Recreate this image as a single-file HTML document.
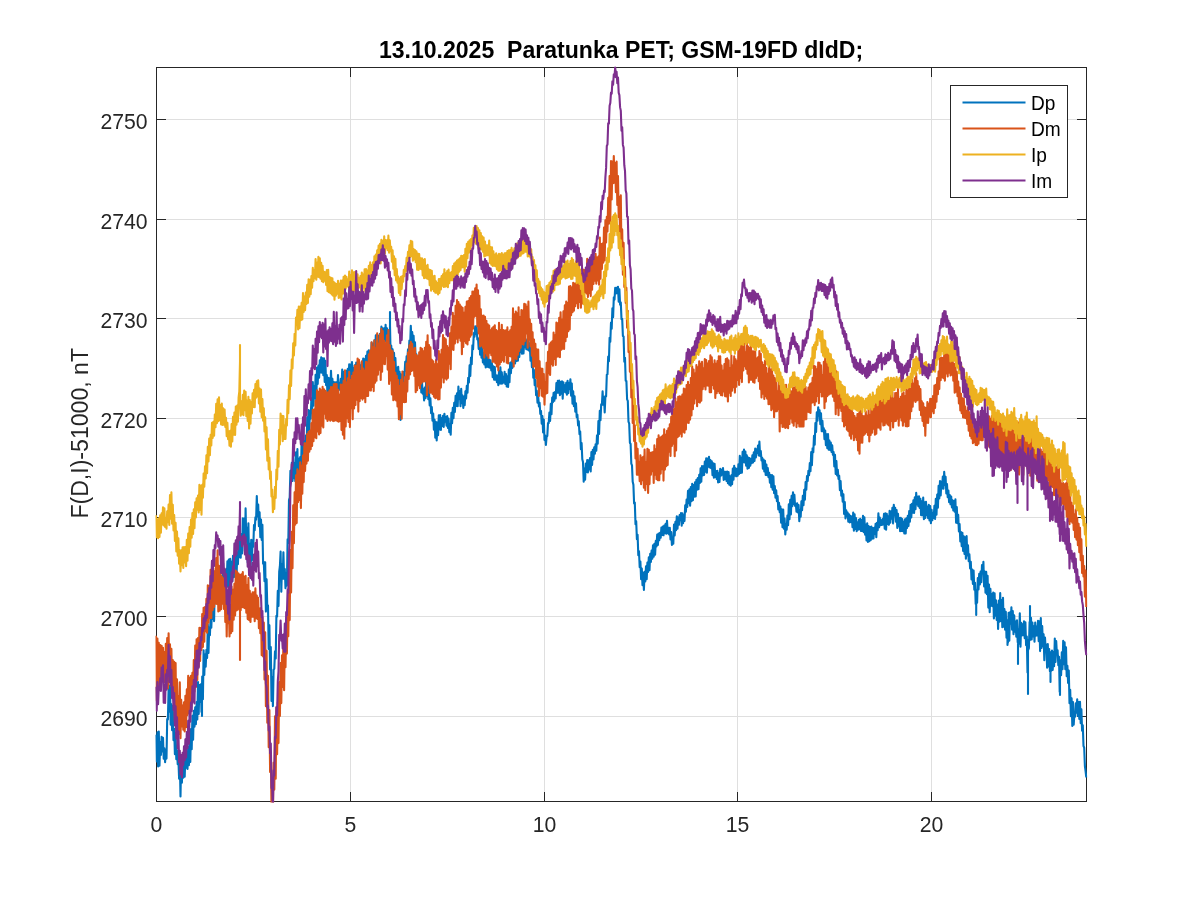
<!DOCTYPE html>
<html lang="en"><head><meta charset="utf-8"><title>13.10.2025 Paratunka PET; GSM-19FD dIdD;</title>
<style>html,body{margin:0;padding:0;background:#fff;}body{width:1200px;height:900px;overflow:hidden;}svg{display:block;}text{font-family:"Liberation Sans",Arial,Helvetica,sans-serif;fill:#262626;}.tk{font-size:21.2px;}.ttl{font-size:23.07px;font-weight:bold;fill:#000;}.yl{font-size:23.1px;}.lg{font-size:19.1px;fill:#000;}</style></head><body>
<svg width="1200" height="900" viewBox="0 0 1200 900">
<rect x="0" y="0" width="1200" height="900" fill="#fff"/>
<path d="M350.50 67.5V801.5M544.50 67.5V801.5M737.50 67.5V801.5M931.50 67.5V801.5M156.5 716.50H1086.5M156.5 616.50H1086.5M156.5 517.50H1086.5M156.5 418.50H1086.5M156.5 318.50H1086.5M156.5 219.50H1086.5M156.5 119.50H1086.5" stroke="#262626" stroke-opacity="0.15" stroke-width="1" fill="none" shape-rendering="crispEdges"/>
<path d="M350.50 801.5v-9.3M350.50 67.5v9.3M544.50 801.5v-9.3M544.50 67.5v9.3M737.50 801.5v-9.3M737.50 67.5v9.3M931.50 801.5v-9.3M931.50 67.5v9.3M156.5 716.50h9.3M1086.5 716.50h-9.3M156.5 616.50h9.3M1086.5 616.50h-9.3M156.5 517.50h9.3M1086.5 517.50h-9.3M156.5 418.50h9.3M1086.5 418.50h-9.3M156.5 318.50h9.3M1086.5 318.50h-9.3M156.5 219.50h9.3M1086.5 219.50h-9.3M156.5 119.50h9.3M1086.5 119.50h-9.3" stroke="#262626" stroke-width="1" fill="none" shape-rendering="crispEdges"/>
<rect x="156.5" y="67.5" width="930.0" height="734.0" fill="none" stroke="#262626" stroke-width="1" shape-rendering="crispEdges"/>
<defs><clipPath id="c"><rect x="155.5" y="66.5" width="932.0" height="736.0"/></clipPath></defs>
<g clip-path="url(#c)" fill="none" stroke-width="2.1" stroke-linejoin="round" stroke-linecap="butt">
<path d="M156.0,734.6 156.7,761.4 157.4,732.4 158.1,766.5 158.8,731.6 159.5,765.8 160.2,742.3 160.9,755.0 161.6,736.8 162.3,751.5 163.0,737.9 163.7,758.6 164.4,748.2 165.1,762.1 165.8,749.8 166.5,758.6 167.2,719.0 167.9,719.6 168.6,689.0 169.3,711.6 170.0,685.5 170.7,724.7 171.4,704.3 172.1,730.2 172.8,706.1 173.5,740.2 174.2,728.8 174.9,754.3 175.6,732.9 176.3,759.3 177.0,750.4 177.7,764.2 178.4,759.5 179.1,778.6 179.8,760.2 180.5,796.5 181.2,756.5 181.9,782.6 182.6,762.0 183.3,777.7 184.0,757.7 184.7,776.6 185.4,755.3 186.1,767.6 186.8,752.9 187.5,769.0 188.2,747.1 188.9,765.3 189.6,738.2 190.3,762.0 191.0,729.0 191.7,749.3 192.4,715.7 193.1,739.7 193.8,710.7 194.5,726.8 195.2,707.4 195.9,724.2 196.6,702.1 197.3,719.5 198.0,682.1 198.7,713.9 199.4,685.1 200.1,702.0 200.8,684.3 201.5,712.0 202.0,690.0 202.0,716.0 202.0,690.0 202.2,676.5 202.9,699.2 203.6,650.4 204.3,675.0 205.0,654.5 205.7,666.8 206.4,649.9 207.1,657.9 207.8,624.6 208.5,652.9 209.2,627.6 209.9,635.1 210.6,617.4 211.3,627.7 212.0,609.3 212.7,618.9 213.4,595.8 214.1,621.1 214.8,583.2 215.5,594.5 216.2,579.7 216.9,600.2 217.6,575.0 218.3,595.4 219.0,569.9 219.7,600.3 220.4,575.4 221.1,589.4 221.8,576.6 222.5,586.1 223.2,563.3 223.9,590.9 224.6,571.6 225.3,588.0 226.0,569.6 226.7,582.1 227.4,561.4 228.1,586.9 228.8,559.6 229.5,589.7 230.2,558.7 230.9,585.8 231.6,561.9 232.3,581.1 233.0,555.8 233.7,577.3 234.4,560.0 235.1,576.6 235.8,549.4 236.5,580.8 237.2,552.6 237.9,564.2 238.6,545.6 239.3,557.1 240.0,540.2 240.7,557.7 241.4,534.4 242.1,553.5 242.8,518.3 243.5,541.2 244.2,518.6 244.9,551.3 245.6,508.4 246.3,541.5 247.0,527.9 247.7,562.6 248.4,523.2 249.1,561.0 249.8,543.7 250.5,577.1 251.2,539.9 251.9,560.5 252.6,540.1 253.3,546.6 254.0,525.1 254.7,530.1 255.4,517.4 256.1,519.7 256.8,496.1 257.5,516.4 258.2,504.6 258.9,526.2 259.6,512.4 260.3,537.1 261.0,519.5 261.7,540.0 262.4,524.7 263.1,563.7 263.8,561.9 264.5,581.3 265.2,562.3 265.9,611.6 266.6,579.2 267.3,607.8 268.0,605.4 268.7,648.9 269.4,625.2 270.1,669.4 270.8,647.0 271.5,701.0 272.2,677.0 272.9,706.1 273.6,669.6 274.3,668.8 275.0,651.3 275.7,658.4 276.4,615.9 277.1,616.5 277.8,590.9 278.5,606.0 279.2,571.7 279.9,566.2 280.6,551.6 281.3,591.7 282.0,564.3 282.7,578.7 283.4,552.3 284.1,578.8 284.8,569.0 285.5,588.1 286.2,573.3 286.9,585.6 287.6,539.3 288.3,543.1 289.0,500.0 289.7,497.5 290.4,470.9 291.1,481.0 291.8,462.9 292.5,481.0 293.2,455.3 293.9,478.2 294.6,463.2 295.3,481.2 296.0,452.4 296.7,480.4 297.4,449.0 298.1,488.6 298.8,458.7 299.5,471.7 300.2,457.1 300.9,477.6 301.6,442.6 302.3,464.4 303.0,431.1 303.7,468.3 304.4,441.3 305.1,454.1 305.8,435.5 306.5,459.0 307.2,417.3 307.9,443.8 308.6,410.0 309.3,429.5 310.0,410.7 310.7,418.7 311.4,398.3 312.1,413.3 312.8,382.1 313.5,405.8 314.2,386.0 314.9,398.3 315.6,374.9 316.3,401.9 317.0,367.6 317.7,384.0 318.4,365.6 319.1,377.8 319.8,360.2 320.5,372.4 321.2,357.3 321.9,372.8 322.6,358.3 323.3,375.1 324.0,358.2 324.7,381.9 325.4,360.7 326.1,385.1 326.8,375.1 327.5,397.0 328.2,377.9 328.9,398.2 329.6,378.3 330.3,390.6 331.0,370.9 331.7,389.4 332.4,378.9 333.1,390.1 333.8,382.1 334.5,395.9 335.2,382.3 335.9,399.1 336.6,382.4 337.3,391.0 338.0,375.0 338.7,389.4 339.4,383.1 340.1,389.9 340.8,378.7 341.5,388.7 342.2,369.6 342.9,384.6 343.6,371.9 344.3,379.7 345.0,374.2 345.7,379.3 346.4,370.8 347.1,384.6 347.8,368.9 348.5,380.3 349.2,364.3 349.9,380.3 350.6,364.5 351.3,374.1 352.0,362.0 352.7,378.8 353.4,368.2 354.1,374.4 354.8,365.2 355.5,378.9 356.2,362.5 356.9,375.4 357.6,364.3 358.3,375.7 359.0,361.9 359.7,372.7 360.4,365.6 361.1,372.2 361.8,362.2 362.5,373.5 363.2,358.5 363.9,373.0 364.6,359.4 365.3,365.5 366.0,355.8 366.7,365.4 367.4,351.5 368.1,367.0 368.8,350.3 369.5,358.3 370.2,351.9 370.9,360.7 371.6,342.6 372.3,355.7 373.0,344.2 373.7,349.6 374.4,340.4 375.1,352.4 375.8,335.2 376.5,346.0 377.2,334.9 377.9,343.2 378.6,335.7 379.3,342.3 380.0,333.7 380.7,340.7 381.4,326.6 382.1,344.2 382.8,328.3 383.5,338.9 384.2,328.3 384.9,341.2 385.6,324.7 386.3,340.6 387.0,328.2 387.7,341.9 388.4,331.0 389.1,347.1 389.8,337.0 390.0,325.0 390.0,312.0 390.0,325.0 390.5,350.1 391.2,345.5 391.9,354.4 392.6,349.2 393.3,364.2 394.0,352.7 394.7,367.8 395.4,358.1 396.1,374.8 396.8,367.8 397.5,382.3 398.2,366.9 398.9,384.2 399.6,371.7 400.3,386.2 400.5,400.0 400.5,420.0 400.5,400.0 401.0,374.2 401.7,389.5 402.4,381.6 403.1,387.8 403.8,371.9 404.5,375.6 405.2,361.9 405.9,371.0 406.6,356.2 407.3,360.7 408.0,349.2 408.7,353.4 409.4,340.5 410.1,346.3 410.8,325.9 411.5,342.8 412.2,332.1 412.9,342.9 413.6,335.7 414.3,351.1 415.0,342.2 415.7,360.5 416.4,354.4 417.1,365.0 417.8,361.4 418.5,375.8 419.2,366.0 419.9,386.7 420.6,372.1 421.3,392.5 422.0,382.2 422.7,393.6 423.4,389.4 424.1,400.4 424.8,387.5 425.5,398.1 426.2,379.9 426.9,396.3 427.6,379.6 428.3,399.3 429.0,391.7 429.7,405.5 430.4,398.3 431.1,413.3 431.8,407.0 432.5,420.6 433.2,413.5 433.9,429.6 434.6,419.8 435.3,437.6 436.0,422.1 436.7,440.5 437.4,422.6 438.1,435.3 438.8,415.4 439.5,429.4 440.2,415.1 440.9,429.9 441.6,418.4 442.3,426.0 443.0,415.8 443.7,427.0 444.4,413.7 445.1,421.7 445.8,417.0 446.5,425.6 447.2,416.0 447.9,428.0 448.6,418.6 449.3,432.2 450.0,424.0 450.7,434.6 451.4,412.9 452.1,423.1 452.8,407.9 453.5,418.1 454.2,402.7 454.9,412.0 455.6,395.8 456.3,405.9 457.0,393.3 457.7,406.3 458.4,386.5 459.1,398.9 459.8,391.3 460.5,406.1 461.2,388.8 461.9,403.1 462.6,395.5 463.3,408.0 464.0,396.8 464.7,405.3 465.4,391.3 466.1,398.5 466.8,385.9 467.5,392.6 468.2,377.9 468.9,382.4 469.6,365.4 470.3,375.9 471.0,357.6 471.7,364.1 472.4,345.4 473.1,349.2 473.8,333.1 474.5,336.6 475.2,326.3 475.9,334.3 476.6,326.3 477.3,339.4 478.0,338.2 478.7,349.0 479.4,340.6 480.1,354.6 480.8,343.9 481.5,357.7 482.2,348.7 482.9,362.5 483.6,352.9 484.3,364.5 485.0,354.9 485.7,367.5 486.4,353.4 487.1,366.7 487.8,356.4 488.5,367.3 489.2,359.5 489.9,367.7 490.6,360.4 491.3,370.5 492.0,363.8 492.7,377.1 493.4,366.3 494.1,379.6 494.8,367.1 495.5,379.8 496.2,375.4 496.9,382.2 497.6,375.5 498.3,385.1 499.0,371.3 499.7,383.5 500.4,367.3 501.1,383.7 501.8,372.3 502.5,383.4 503.2,376.9 503.9,382.5 504.6,371.9 505.3,384.0 506.0,374.0 506.7,386.4 507.4,376.6 508.1,387.0 508.8,369.5 509.5,382.1 510.2,362.8 510.9,373.3 511.6,361.5 512.3,367.9 513.0,357.0 513.7,363.1 514.4,357.3 515.1,363.4 515.8,350.9 516.5,360.9 517.2,349.0 517.9,360.8 518.6,347.8 519.3,357.0 520.0,345.3 520.7,352.2 521.4,344.9 522.1,353.8 522.8,336.4 523.5,353.4 524.2,340.6 524.9,347.3 525.6,339.0 526.3,349.2 527.0,340.5 527.7,349.6 528.4,339.2 529.1,350.6 529.8,343.5 530.5,360.7 531.2,352.2 531.9,367.1 532.6,358.5 533.3,377.8 534.0,370.1 534.7,385.1 535.4,380.0 536.1,395.2 536.8,390.7 537.5,402.8 538.2,396.0 538.9,406.4 539.6,402.8 540.3,414.0 541.0,411.1 541.7,423.6 542.4,416.0 543.1,432.5 543.8,419.5 544.5,439.9 545.2,435.6 545.9,445.0 546.6,436.9 547.3,435.9 548.0,423.1 548.7,423.1 549.4,412.5 550.1,421.0 550.8,403.9 551.5,414.2 552.2,397.5 552.9,402.1 553.6,392.9 554.3,400.8 555.0,392.0 555.7,398.4 556.4,383.0 557.1,392.7 557.8,380.7 558.5,392.7 559.2,380.5 559.9,395.2 560.6,382.0 561.3,393.7 562.0,381.4 562.7,398.8 563.4,382.3 564.1,391.7 564.8,385.3 565.5,392.5 566.2,382.8 566.9,394.8 567.6,380.7 568.3,393.2 569.0,383.4 569.7,388.9 570.4,379.2 571.1,395.8 571.8,383.5 572.5,403.6 573.2,391.3 573.9,406.1 574.6,396.2 575.3,411.7 576.0,403.4 576.7,417.1 577.4,414.8 578.1,425.5 578.8,421.4 579.5,434.2 580.2,431.6 580.9,449.1 581.6,443.1 582.3,459.2 583.0,462.1 583.7,481.6 584.4,468.7 585.1,479.7 585.8,463.6 586.5,471.9 587.2,460.1 587.9,472.5 588.6,460.2 589.3,469.4 590.0,458.0 590.7,471.5 591.4,452.1 592.1,465.0 592.8,449.8 593.5,459.5 594.2,447.3 594.9,453.7 595.6,444.2 596.3,450.7 597.0,435.4 597.7,443.6 598.4,421.1 599.1,433.9 599.8,410.7 600.5,420.2 601.2,404.2 601.9,404.7 602.6,391.2 603.3,404.8 604.0,397.3 604.7,412.4 605.4,396.1 606.1,396.4 606.8,374.9 607.5,374.3 608.2,356.6 608.9,361.2 609.6,337.9 610.3,341.6 611.0,322.5 611.7,328.6 612.4,308.4 613.1,317.2 613.8,297.2 614.5,299.8 615.2,287.9 615.9,293.4 616.6,287.8 617.3,293.3 618.0,286.7 618.7,301.6 619.4,289.4 620.1,304.7 620.8,302.6 621.5,319.1 622.2,318.9 622.9,336.0 623.6,336.6 624.3,361.7 625.0,357.8 625.7,380.6 626.4,381.1 627.1,399.3 627.8,400.9 628.5,421.7 629.2,423.7 629.9,442.8 630.6,443.8 631.3,463.6 632.0,465.4 632.7,481.7 633.4,484.7 634.1,503.4 634.8,502.5 635.5,524.1 636.2,521.3 636.9,539.2 637.6,534.8 638.3,555.2 639.0,551.4 639.7,567.3 640.4,561.5 641.1,579.3 641.8,568.5 642.5,585.3 643.2,572.8 643.9,589.9 644.6,571.9 645.3,581.4 646.0,566.3 646.7,579.2 647.4,562.5 648.1,572.0 648.8,557.2 649.5,570.3 650.2,553.7 650.9,562.0 651.6,550.5 652.3,558.6 653.0,545.2 653.7,556.8 654.4,543.7 655.1,554.6 655.8,540.7 656.5,546.4 657.2,534.5 657.9,544.9 658.6,533.5 659.3,540.1 660.0,532.9 660.7,537.6 661.4,527.5 662.1,534.9 662.8,526.6 663.5,535.3 664.2,525.6 664.9,533.2 665.6,523.8 666.3,533.8 667.0,520.7 667.7,533.1 668.4,527.8 669.1,534.4 669.8,527.7 670.5,539.4 671.2,532.1 671.9,544.9 672.6,538.0 673.3,543.7 674.0,524.5 674.7,535.5 675.4,521.9 676.1,530.1 676.8,516.4 677.5,528.7 678.2,517.6 678.9,524.8 679.6,515.1 680.3,520.3 681.0,513.1 681.7,525.6 682.4,513.4 683.1,523.2 683.8,515.4 684.5,521.0 685.2,505.4 685.9,511.7 686.6,499.6 687.3,506.9 688.0,490.8 688.7,503.3 689.4,489.4 690.1,505.6 690.8,487.1 691.5,501.3 692.2,483.8 692.9,500.1 693.6,485.1 694.3,496.6 695.0,482.2 695.7,496.5 696.4,479.9 697.1,489.7 697.8,478.0 698.5,489.1 699.2,474.8 699.9,482.9 700.6,468.2 701.3,481.7 702.0,466.1 702.7,475.4 703.4,466.4 704.1,475.0 704.8,461.6 705.5,471.8 706.2,458.2 706.9,472.8 707.6,458.5 708.3,466.8 709.0,456.9 709.7,467.4 710.4,460.1 711.1,468.2 711.8,461.4 712.5,475.1 713.2,463.4 713.9,477.8 714.6,463.9 715.3,476.9 716.0,471.1 716.7,479.0 717.4,470.8 718.1,482.5 718.8,473.3 719.5,481.9 720.2,468.9 720.9,475.7 721.6,469.7 722.3,474.7 723.0,468.0 723.7,480.0 724.4,471.8 725.1,478.9 725.8,471.9 726.5,481.0 727.2,471.5 727.9,483.2 728.6,472.1 729.3,484.7 730.0,476.5 730.7,485.7 731.4,475.3 732.1,484.3 732.8,468.6 733.5,479.6 734.2,465.8 734.9,475.8 735.6,468.2 736.3,476.3 737.0,469.0 737.7,475.8 738.4,464.4 739.1,473.9 739.8,455.9 740.5,473.0 741.2,457.7 741.9,472.7 742.6,451.7 743.3,462.2 744.0,449.6 744.7,462.5 745.4,451.6 746.1,465.7 746.8,455.4 747.5,468.8 748.2,457.6 748.9,467.9 749.6,458.1 750.3,465.7 751.0,459.0 751.7,463.1 752.4,455.2 753.1,462.4 753.8,452.3 754.5,461.0 755.2,448.6 755.9,457.4 756.6,449.4 757.3,452.9 758.0,445.6 758.7,455.4 759.4,441.6 760.1,455.9 760.8,451.1 761.5,460.4 762.2,457.8 762.9,468.8 763.6,459.6 764.3,471.5 765.0,460.7 765.7,475.0 766.4,464.5 767.1,475.1 767.8,468.0 768.5,477.1 769.2,472.7 769.9,482.7 770.6,475.1 771.3,487.3 772.0,475.1 772.7,489.8 773.4,476.2 774.1,493.2 774.8,486.1 775.5,497.7 776.2,490.3 776.9,501.3 777.6,496.1 778.3,509.5 779.0,502.8 779.7,512.1 780.4,506.6 781.1,522.8 781.8,509.4 782.5,527.1 783.2,509.6 783.9,528.6 784.6,518.6 785.3,534.5 786.0,524.9 786.7,529.7 787.4,515.5 788.1,525.2 788.8,504.3 789.5,519.2 790.2,499.9 790.9,514.5 791.6,495.9 792.3,506.1 793.0,492.3 793.7,504.2 794.4,494.7 795.1,505.9 795.8,503.8 796.5,511.6 797.2,503.4 797.9,512.5 798.6,505.0 799.3,521.2 800.0,510.6 800.7,516.7 801.4,501.4 802.1,510.1 802.8,495.7 803.5,505.3 804.2,489.9 804.9,499.6 805.6,482.1 806.3,489.6 807.0,476.1 807.7,481.0 808.4,470.7 809.1,475.1 809.8,463.0 810.5,471.2 811.2,452.0 811.9,465.2 812.6,448.2 813.3,452.1 814.0,435.9 814.7,444.8 815.4,423.0 816.1,432.0 816.8,412.2 817.5,420.8 818.2,407.2 818.9,415.8 819.6,410.4 820.3,424.1 821.0,413.3 821.7,431.1 822.4,420.8 823.1,431.2 823.8,428.3 824.5,439.1 825.2,430.6 825.9,445.1 826.6,434.3 827.3,448.1 828.0,434.1 828.7,449.7 829.4,440.6 830.1,449.9 830.8,442.6 831.5,451.9 832.2,445.3 832.9,454.8 833.6,452.1 834.3,466.4 835.0,454.9 835.7,474.0 836.4,461.1 837.1,475.5 837.8,469.7 838.5,478.9 839.2,475.7 839.9,490.2 840.6,481.0 841.3,495.6 842.0,490.5 842.7,501.8 843.4,494.3 844.1,513.9 844.8,502.1 845.5,518.5 846.2,510.2 846.9,516.5 847.6,512.6 848.3,521.7 849.0,514.4 849.7,522.4 850.4,515.7 851.1,521.9 851.8,516.5 852.5,527.3 853.2,512.6 853.9,530.6 854.6,514.3 855.3,529.0 856.0,518.0 856.7,531.1 857.4,522.5 858.1,529.6 858.8,519.7 859.5,529.2 860.2,518.7 860.9,531.0 861.6,520.1 862.3,531.0 863.0,515.7 863.7,532.3 864.4,517.2 865.1,534.6 865.8,524.7 866.5,540.5 867.2,523.3 867.9,541.9 868.6,526.1 869.3,541.3 870.0,527.1 870.7,540.1 871.4,526.6 872.1,538.7 872.8,528.1 873.5,538.4 874.2,527.9 874.9,533.9 875.6,523.7 876.3,537.3 877.0,522.8 877.7,530.1 878.4,513.3 879.1,527.3 879.8,517.6 880.5,525.1 881.2,520.2 881.9,525.0 882.6,519.1 883.3,524.5 884.0,513.7 884.7,528.7 885.4,513.3 886.1,529.6 886.8,513.9 887.5,524.0 888.2,516.6 888.9,524.8 889.6,510.9 890.3,522.7 891.0,511.5 891.7,518.6 892.4,507.9 893.1,523.4 893.8,504.9 894.5,515.5 895.2,507.9 895.9,521.8 896.6,510.0 897.3,528.0 898.0,513.9 898.7,526.1 899.4,518.1 900.1,531.2 900.8,517.9 901.5,531.0 902.2,519.0 902.9,531.2 903.6,521.9 904.3,533.4 905.0,519.4 905.7,533.5 906.4,518.2 907.1,528.0 907.8,515.8 908.5,526.0 909.2,511.0 909.9,521.8 910.6,504.9 911.3,517.5 912.0,503.8 912.7,512.8 913.4,500.2 914.1,512.9 914.8,497.4 915.5,509.1 916.2,492.8 916.9,504.5 917.6,496.8 918.3,506.1 919.0,496.4 919.7,507.9 920.4,498.8 921.1,515.3 921.8,501.2 922.5,515.2 923.2,497.5 923.9,519.3 924.6,502.2 925.3,517.9 926.0,501.9 926.7,515.1 927.4,506.7 928.1,518.1 928.8,504.9 929.5,520.5 930.2,506.0 930.9,523.1 931.6,509.7 932.3,520.3 933.0,513.1 933.7,517.9 934.4,505.8 935.1,518.9 935.8,498.7 936.5,514.6 937.2,494.5 937.9,507.7 938.6,485.8 939.3,498.4 940.0,481.0 940.7,495.4 941.4,481.8 942.1,488.4 942.8,476.5 943.5,488.7 944.2,471.9 944.9,484.9 945.6,476.7 946.3,493.5 947.0,484.1 947.7,497.2 948.4,490.6 949.1,502.3 949.8,495.1 950.5,504.3 951.2,496.5 951.9,507.5 952.6,500.4 953.3,510.4 954.0,501.0 954.7,511.7 955.4,499.2 956.1,522.6 956.8,507.1 957.5,523.2 958.2,514.8 958.9,531.5 959.6,524.1 960.3,541.4 961.0,532.0 961.7,546.1 962.4,532.9 963.1,550.9 963.8,536.4 964.5,554.0 965.2,537.3 965.9,558.6 966.6,536.1 967.3,555.5 968.0,545.4 968.7,561.2 969.4,554.3 970.1,568.5 970.8,561.7 971.5,579.5 972.2,569.6 972.9,584.0 973.6,570.5 974.3,589.8 975.0,582.8 975.7,603.9 976.2,590.0 976.2,615.0 976.2,590.0 976.4,597.1 977.1,602.7 977.8,578.1 978.5,589.4 979.2,573.8 979.9,584.5 980.6,571.5 981.3,582.1 982.0,565.0 982.7,573.1 983.4,561.7 984.1,586.4 984.8,571.5 985.5,592.6 986.2,571.8 986.9,594.2 987.6,575.8 988.3,607.6 989.0,584.6 989.7,612.2 990.4,588.8 991.1,605.8 991.8,594.3 992.5,606.2 993.2,592.5 993.9,618.4 994.6,593.2 995.3,615.6 996.0,600.4 996.7,619.9 997.4,604.8 998.1,629.0 998.8,600.5 999.5,621.8 1000.2,593.0 1000.9,620.9 1001.6,600.1 1002.3,627.1 1003.0,597.9 1003.7,626.7 1004.4,609.0 1005.1,629.8 1005.8,611.8 1006.5,637.7 1007.2,627.1 1007.5,620.0 1007.5,645.0 1007.5,620.0 1007.9,643.0 1008.6,612.8 1009.3,640.6 1010.0,612.2 1010.7,623.6 1011.4,607.3 1012.1,629.7 1012.8,611.0 1013.5,634.3 1014.2,615.2 1014.9,631.6 1015.6,621.6 1016.3,636.7 1017.0,620.3 1017.7,642.2 1018.0,630.0 1018.0,664.0 1018.0,630.0 1018.4,629.1 1019.1,643.7 1019.8,613.2 1020.5,646.7 1021.2,622.8 1021.9,635.4 1022.6,624.3 1023.3,635.1 1024.0,621.4 1024.7,638.3 1025.4,622.4 1026.1,645.2 1026.8,636.6 1027.5,672.4 1028.0,640.0 1028.0,694.0 1028.0,640.0 1028.2,649.8 1028.9,648.0 1029.6,622.1 1030.0,640.0 1030.0,606.0 1030.0,640.0 1030.3,630.6 1031.0,617.7 1031.7,639.4 1032.4,622.5 1033.1,636.4 1033.8,626.2 1034.5,641.6 1035.2,622.6 1035.9,635.7 1036.6,626.9 1037.3,635.5 1038.0,620.7 1038.7,641.1 1039.4,621.3 1040.1,651.1 1040.8,618.0 1041.5,647.9 1042.2,626.1 1042.9,646.2 1043.6,634.4 1044.3,660.1 1045.0,637.6 1045.7,650.8 1046.4,644.6 1047.1,667.7 1047.8,644.1 1048.5,666.5 1049.2,649.1 1049.9,671.3 1050.5,655.0 1050.5,682.0 1050.5,655.0 1050.6,652.3 1051.3,670.8 1052.0,650.6 1052.7,670.0 1053.4,652.0 1054.1,666.2 1054.8,638.5 1055.5,662.0 1056.2,641.1 1056.9,654.2 1057.6,650.2 1058.3,665.1 1059.0,656.7 1059.7,692.0 1060.0,660.0 1060.0,695.0 1060.0,660.0 1060.4,662.7 1061.1,675.3 1061.8,652.3 1062.5,669.2 1063.2,640.9 1063.9,664.2 1064.6,642.3 1065.3,669.3 1066.0,647.3 1066.7,676.3 1067.4,665.9 1068.1,682.9 1068.8,670.6 1069.5,703.3 1070.2,689.8 1070.9,716.2 1071.6,698.3 1072.3,726.0 1073.0,702.1 1073.7,724.8 1074.4,714.2 1075.1,716.8 1075.8,703.3 1076.5,712.8 1077.2,699.2 1077.9,716.0 1078.6,702.1 1079.3,719.0 1080.0,701.7 1080.7,723.3 1081.4,709.2 1082.1,730.8 1082.8,725.4 1083.5,746.0 1084.2,747.7 1084.9,766.1 1085.6,771.4 1086.3,777.5" stroke="#0072BD"/>
<path d="M156.0,635.8 156.7,700.4 157.4,638.6 158.1,685.2 158.8,642.9 159.5,679.4 160.2,645.0 160.9,680.6 161.6,645.7 162.3,675.5 163.0,647.8 163.7,681.4 164.4,652.1 165.1,682.5 165.8,643.7 166.5,686.1 167.2,638.1 167.9,688.5 168.6,633.2 169.3,676.9 170.0,644.4 170.7,685.5 171.4,648.9 172.1,688.6 172.8,660.0 173.5,693.2 174.2,661.7 174.9,721.4 175.6,663.0 176.3,728.5 177.0,679.3 177.7,717.8 178.4,696.6 179.1,733.9 179.8,682.4 180.5,738.3 181.2,699.7 181.9,726.5 182.6,705.5 183.3,729.6 184.0,702.3 184.7,731.5 185.4,695.8 186.1,727.2 186.8,689.4 187.5,715.1 188.2,675.8 188.9,713.3 189.6,677.7 190.3,707.9 191.0,675.7 191.7,693.2 192.4,672.9 193.1,691.9 193.8,660.1 194.5,691.6 195.2,645.6 195.9,687.1 196.6,639.3 197.3,679.9 198.0,638.1 198.7,666.4 199.4,627.7 200.1,661.0 200.8,628.0 201.5,650.0 202.2,614.0 202.9,646.9 203.6,607.8 204.3,641.8 205.0,607.1 205.7,631.1 206.4,598.8 207.1,632.8 207.8,585.3 208.5,622.7 209.2,586.1 209.9,618.3 210.6,569.8 211.3,617.9 212.0,561.1 212.7,610.1 213.4,568.2 214.1,606.9 214.8,571.4 215.5,603.6 216.2,558.0 216.9,603.9 217.6,550.3 218.3,611.4 219.0,565.8 219.7,610.8 220.4,567.1 221.1,609.2 221.8,576.5 222.5,603.7 223.2,578.3 223.9,608.9 224.6,586.8 225.3,621.9 226.0,585.3 226.7,636.4 227.4,596.0 228.1,623.1 228.8,599.4 229.5,636.4 230.2,605.2 230.9,633.3 231.6,586.5 232.3,631.3 233.0,589.8 233.7,619.7 234.4,583.7 235.1,615.5 235.8,570.5 236.5,610.5 237.2,572.0 237.9,609.6 238.6,573.5 239.3,602.3 240.0,575.1 240.0,610.0 240.0,660.0 240.0,610.0 240.7,610.2 241.4,574.4 242.1,607.1 242.8,572.0 243.5,607.5 244.2,576.9 244.9,608.2 245.6,575.8 246.3,612.7 247.0,585.2 247.7,619.1 248.4,578.0 249.1,620.1 249.8,590.9 250.5,621.9 251.2,594.3 251.9,616.6 252.6,592.3 253.3,616.6 254.0,592.3 254.7,621.2 255.4,588.4 256.1,618.1 256.8,595.5 257.5,619.0 258.2,597.7 258.9,628.3 259.6,608.6 260.3,633.2 261.0,608.1 261.7,655.2 262.4,617.1 263.1,656.4 263.8,622.5 264.5,679.4 265.2,632.4 265.9,706.2 266.6,650.9 267.3,722.8 268.0,675.8 268.7,747.2 269.4,710.1 270.1,772.1 270.8,752.2 271.5,806.9 272.2,778.0 272.9,815.5 273.6,762.6 274.3,789.6 275.0,716.3 275.7,778.8 276.4,707.7 277.1,754.3 277.8,702.3 278.5,743.1 279.2,682.2 279.9,715.9 280.6,663.0 281.3,703.1 282.0,655.2 282.7,687.0 283.4,640.8 284.1,690.2 284.8,639.2 285.5,667.3 286.2,630.2 286.9,653.6 287.6,607.4 288.3,636.2 289.0,583.4 289.7,620.1 290.4,550.1 291.1,592.4 291.8,531.8 292.5,568.2 293.2,505.4 293.9,543.2 294.6,492.4 295.3,524.6 296.0,475.3 296.7,522.9 297.4,469.2 298.1,502.1 298.8,471.2 299.5,500.0 300.2,462.3 300.9,508.1 301.6,465.9 302.3,493.7 303.0,455.5 303.7,482.1 304.4,443.2 305.1,471.0 305.8,443.2 306.5,463.6 307.2,434.0 307.9,460.7 308.6,431.7 309.3,451.6 310.0,430.9 310.7,449.2 311.4,423.2 312.1,446.0 312.8,409.8 313.5,441.2 314.2,409.5 314.9,437.2 315.6,400.8 316.3,438.2 317.0,390.4 317.7,431.4 318.4,391.9 319.1,434.4 319.8,388.5 320.5,433.0 321.2,390.2 321.9,425.8 322.6,386.9 323.3,427.4 324.0,389.3 324.7,413.6 325.4,390.9 326.1,418.8 326.8,392.6 327.5,421.0 328.2,392.3 328.9,419.4 329.6,390.4 330.3,420.8 331.0,387.1 331.7,419.6 332.4,387.4 333.1,421.1 333.8,384.3 334.5,420.8 335.2,383.7 335.9,420.3 336.6,384.0 337.3,421.1 338.0,389.7 338.7,421.7 339.4,394.7 340.1,420.9 340.8,384.5 341.5,430.0 342.2,384.7 342.9,434.7 343.6,380.8 344.3,438.8 345.0,370.4 345.7,426.5 346.4,382.6 347.1,418.1 347.8,378.2 348.5,422.0 349.2,371.8 349.9,427.1 350.6,380.0 351.3,408.1 352.0,375.9 352.7,419.3 353.4,372.5 354.1,408.4 354.8,365.6 355.5,404.9 356.2,365.7 356.9,399.7 357.6,358.6 358.3,411.6 359.0,359.9 359.7,401.2 360.4,371.2 361.1,398.0 361.8,361.4 362.5,399.6 363.2,368.5 363.9,397.9 364.6,370.9 365.3,402.3 366.0,361.8 366.7,396.0 367.4,362.5 368.1,396.0 368.8,354.4 369.5,390.2 370.2,350.6 370.9,390.6 371.6,342.3 372.3,387.0 373.0,347.2 373.7,391.1 374.4,340.3 375.1,382.7 375.8,348.3 376.5,380.7 377.2,333.3 377.9,374.8 378.6,343.7 379.3,369.8 380.0,334.5 380.7,379.9 381.4,328.9 382.1,371.7 382.8,331.0 383.5,363.7 384.2,340.7 384.9,364.2 385.6,343.4 386.3,356.0 387.0,335.4 387.7,369.6 388.4,330.1 389.1,384.0 389.8,345.2 390.5,380.5 391.2,350.2 391.9,394.4 392.6,351.4 393.3,400.3 394.0,361.9 394.7,399.5 395.4,372.8 396.1,400.5 396.8,375.8 397.5,406.4 398.2,380.1 398.9,419.2 399.6,386.0 400.3,414.2 401.0,379.8 401.7,418.8 402.4,371.5 403.1,402.0 403.8,383.0 404.5,402.2 405.2,376.9 405.9,401.9 406.6,363.6 407.3,391.4 408.0,352.6 408.7,379.0 409.4,345.3 410.1,374.5 410.8,341.8 411.5,371.0 412.2,343.9 412.9,370.2 413.6,349.2 414.3,375.9 415.0,347.8 415.7,392.2 416.4,355.0 417.1,390.3 417.8,356.3 418.5,385.2 419.2,352.2 419.9,388.3 420.6,347.7 421.3,383.5 422.0,348.9 422.7,381.8 423.4,351.3 424.1,381.4 424.8,347.7 425.5,381.1 426.2,341.7 426.9,395.5 427.6,335.3 428.3,384.4 429.0,345.0 429.7,392.9 430.4,347.4 431.1,392.5 431.8,359.7 432.5,394.0 433.2,361.2 433.9,396.7 434.6,364.2 435.3,398.3 436.0,360.0 436.7,397.7 437.4,364.2 438.1,399.4 438.8,351.1 439.5,399.2 440.2,354.6 440.9,387.6 441.6,349.8 442.3,377.4 443.0,335.0 443.7,382.5 444.4,338.1 445.1,378.2 445.8,339.4 446.5,379.6 447.2,346.0 447.9,377.9 448.6,348.1 449.3,363.8 450.0,333.4 450.7,369.3 451.4,326.9 452.1,349.1 452.8,312.9 453.5,349.9 454.2,316.2 454.9,343.4 455.6,305.7 456.3,338.7 457.0,300.0 457.7,342.5 458.4,302.1 459.1,337.8 459.8,304.6 460.5,340.8 461.2,306.5 461.9,354.3 462.6,307.7 463.3,346.9 464.0,312.8 464.7,341.2 465.4,306.9 466.1,343.3 466.8,301.6 467.5,344.4 468.2,301.1 468.9,340.2 469.6,298.1 470.3,336.8 471.0,296.0 471.7,334.7 472.4,291.5 473.1,328.6 473.8,291.6 474.5,316.6 475.2,288.2 475.9,315.7 476.6,284.5 477.3,326.3 478.0,290.2 478.7,333.5 479.4,295.8 480.1,346.5 480.8,309.3 481.5,345.4 482.2,315.8 482.9,347.6 483.6,315.6 484.3,357.6 485.0,316.8 485.7,353.1 486.4,320.7 487.1,355.7 487.8,324.4 488.5,358.0 489.2,325.6 489.9,352.8 490.6,330.4 491.3,355.2 492.0,328.4 492.7,362.0 493.4,326.9 494.1,361.6 494.8,325.3 495.5,363.2 496.2,330.0 496.9,366.4 497.6,331.2 498.3,370.4 499.0,322.8 499.7,364.5 500.4,330.1 501.1,362.0 501.8,324.8 502.5,360.0 503.2,330.1 503.9,361.8 504.6,330.6 505.3,355.0 506.0,330.3 506.7,362.7 507.4,327.4 508.1,363.5 508.8,332.0 509.5,355.9 510.2,330.4 510.9,356.5 511.6,326.7 512.3,361.4 513.0,308.4 513.7,366.6 514.4,314.3 515.1,358.2 515.8,311.5 516.5,359.3 517.2,313.2 517.9,354.8 518.6,307.3 519.3,351.0 520.0,317.3 520.7,347.8 521.4,310.1 522.1,344.0 522.8,310.5 523.5,344.6 524.2,303.9 524.9,341.1 525.6,304.3 526.3,333.5 527.0,306.7 527.7,347.8 528.4,301.5 529.1,339.8 529.8,319.5 530.5,346.3 531.2,323.8 531.9,355.7 532.6,332.3 533.3,366.9 534.0,339.6 534.7,366.1 535.4,343.9 536.1,378.0 536.8,349.2 537.5,386.4 538.2,349.6 538.9,396.0 539.6,361.3 540.3,388.3 541.0,368.5 541.7,395.7 542.4,368.8 543.1,396.6 543.8,374.1 544.5,404.6 545.2,381.8 545.9,393.8 546.6,362.7 547.3,392.9 548.0,351.9 548.7,373.2 549.4,344.3 550.1,374.9 550.8,342.6 551.5,364.0 552.2,341.2 552.9,365.8 553.6,332.5 554.3,359.0 555.0,335.2 555.7,365.0 556.4,322.5 557.1,356.6 557.8,323.2 558.5,356.4 559.2,317.7 559.9,357.2 560.6,312.2 561.3,349.8 562.0,319.7 562.7,348.6 563.4,311.4 564.1,349.0 564.8,305.4 565.5,341.3 566.2,301.6 566.9,337.0 567.6,303.0 568.3,331.2 569.0,286.5 569.7,329.5 570.4,286.1 571.1,315.1 571.8,287.5 572.5,312.2 573.2,282.8 573.9,310.8 574.6,283.5 575.3,306.3 576.0,283.2 576.7,303.3 577.4,272.7 578.1,308.2 578.8,262.2 579.5,302.0 580.2,274.7 580.9,307.8 581.6,273.7 582.3,303.4 583.0,269.6 583.7,293.2 584.4,270.0 585.1,292.5 585.8,274.4 586.5,293.5 587.2,258.7 587.9,297.1 588.6,266.5 589.3,293.3 590.0,263.6 590.7,296.1 591.4,263.1 592.1,289.8 592.8,254.4 593.5,283.9 594.2,257.4 594.9,280.7 595.6,253.9 596.3,283.7 597.0,257.6 597.7,280.5 598.4,256.5 599.1,284.8 599.8,237.6 600.5,278.7 601.2,244.0 601.9,269.0 602.6,243.5 603.3,262.6 604.0,227.6 604.7,260.4 605.4,220.2 606.1,242.4 606.8,216.9 607.5,231.5 608.2,197.9 608.9,223.7 609.6,176.1 610.3,223.0 611.0,161.1 611.7,199.5 612.4,161.5 613.1,183.1 613.8,156.1 614.5,182.8 615.2,163.1 615.9,192.1 616.6,161.5 617.3,205.0 618.0,176.0 618.7,217.2 619.4,197.1 620.1,239.1 620.8,195.4 621.5,257.4 622.2,229.4 622.9,274.8 623.6,242.8 624.3,287.1 625.0,266.8 625.7,302.9 626.4,287.7 627.1,327.7 627.8,310.8 628.5,352.1 629.2,331.7 629.9,371.8 630.6,358.6 631.3,397.5 632.0,371.7 632.7,423.0 633.4,396.8 634.1,441.1 634.8,425.2 635.5,458.4 636.2,443.1 636.9,474.8 637.6,448.7 638.3,474.6 639.0,462.1 639.7,481.2 640.4,455.3 641.1,484.1 641.8,457.9 642.5,480.2 643.2,456.9 643.9,487.7 644.6,449.6 645.3,490.3 646.0,462.3 646.7,483.9 647.4,448.7 648.1,493.0 648.8,449.8 649.5,484.1 650.2,452.8 650.9,474.7 651.6,452.5 652.3,471.1 653.0,452.1 653.7,482.9 654.4,445.4 655.1,474.8 655.8,449.4 656.5,479.3 657.2,439.0 657.9,480.2 658.6,435.4 659.3,480.3 660.0,437.8 660.7,473.6 661.4,436.8 662.1,469.3 662.8,435.5 663.5,480.6 664.2,429.2 664.9,469.6 665.6,434.8 666.3,466.2 667.0,430.9 667.7,465.0 668.4,428.3 669.1,451.6 669.8,424.2 670.5,456.0 671.2,416.9 671.9,445.9 672.6,409.3 673.3,443.8 674.0,409.1 674.7,456.2 675.4,398.2 676.1,450.4 676.8,402.4 677.5,437.3 678.2,396.8 678.9,436.1 679.6,396.3 680.3,433.7 681.0,396.6 681.7,436.6 682.4,394.6 683.1,431.7 683.8,388.5 684.5,432.8 685.2,389.3 685.9,429.5 686.6,385.1 687.3,422.6 688.0,381.9 688.7,423.0 689.4,385.0 690.1,419.6 690.8,378.0 691.5,415.5 692.2,366.5 692.9,409.3 693.6,369.6 694.3,403.5 695.0,373.6 695.7,398.4 696.4,365.1 697.1,406.2 697.8,367.4 698.5,402.0 699.2,361.2 699.9,402.6 700.6,363.9 701.3,400.8 702.0,361.9 702.7,389.2 703.4,368.5 704.1,386.2 704.8,359.1 705.5,389.5 706.2,360.1 706.9,385.5 707.6,363.6 708.3,385.6 709.0,361.1 709.7,392.2 710.4,355.2 711.1,392.3 711.8,357.2 712.5,385.0 713.2,364.2 713.9,388.8 714.6,360.4 715.3,397.9 716.0,363.8 716.7,393.2 717.4,361.0 718.1,390.9 718.8,356.3 719.5,393.0 720.2,356.3 720.9,395.1 721.6,365.6 722.3,395.4 723.0,370.7 723.7,391.5 724.4,364.0 725.1,396.3 725.8,359.1 726.5,396.5 727.2,358.3 727.9,401.4 728.6,360.2 729.3,392.6 730.0,368.3 730.7,395.9 731.4,355.6 732.1,390.6 732.8,365.6 733.5,387.1 734.2,356.4 734.9,392.6 735.6,359.4 736.3,386.6 737.0,361.4 737.7,380.0 738.4,350.8 739.1,385.0 739.8,346.6 740.5,378.3 741.2,342.8 741.9,382.1 742.6,336.3 743.3,370.4 744.0,343.3 744.7,366.1 745.4,352.7 746.1,368.9 746.8,342.8 747.5,373.8 748.2,346.5 748.9,382.5 749.6,347.7 750.3,379.7 751.0,346.3 751.7,379.8 752.4,351.2 753.1,382.1 753.8,351.4 754.5,382.8 755.2,351.3 755.9,378.1 756.6,358.5 757.3,375.8 758.0,357.4 758.7,381.2 759.4,351.1 760.1,389.1 760.8,353.8 761.5,397.4 762.2,362.2 762.9,393.7 763.6,365.1 764.3,399.0 765.0,360.7 765.7,396.1 766.4,368.1 767.1,398.6 767.8,373.9 768.5,404.2 769.2,362.7 769.9,404.1 770.6,369.6 771.3,410.2 772.0,369.0 772.7,408.7 773.4,375.5 774.1,417.3 774.8,378.0 775.5,411.2 776.2,379.8 776.9,411.2 777.6,391.7 778.3,409.3 779.0,380.5 779.7,431.5 780.4,386.6 781.1,423.3 781.8,384.1 782.5,427.0 783.2,389.7 783.9,426.8 784.6,391.8 785.3,427.9 786.0,384.8 786.7,427.1 787.4,397.2 788.1,428.2 788.8,388.2 789.5,424.0 790.2,390.3 790.9,418.5 791.6,391.5 792.3,422.8 793.0,387.3 793.7,425.7 794.4,387.5 795.1,421.3 795.8,383.1 796.5,427.1 797.2,387.5 797.9,423.3 798.6,383.2 799.3,426.4 800.0,389.5 800.7,426.4 801.4,383.4 802.1,426.5 802.8,385.1 803.5,426.4 804.2,388.7 804.9,419.4 805.6,386.9 806.3,419.3 807.0,391.5 807.7,411.6 808.4,387.6 809.1,412.1 809.8,384.4 810.5,412.9 811.2,383.2 811.9,402.8 812.6,377.9 813.3,402.1 814.0,365.9 814.7,405.1 815.4,366.5 816.1,401.4 816.8,369.3 817.5,396.0 818.2,362.5 818.9,403.3 819.6,362.8 820.3,392.0 821.0,365.3 821.7,396.4 822.4,375.2 823.1,396.2 823.8,361.8 824.5,408.3 825.2,356.6 825.9,401.6 826.6,362.2 827.3,396.1 828.0,357.6 828.7,394.7 829.4,359.5 830.1,393.8 830.8,361.8 831.5,393.5 832.2,364.2 832.9,396.7 833.6,374.9 834.3,401.0 835.0,367.2 835.7,414.2 836.4,371.4 837.1,407.6 837.8,379.2 838.5,415.2 839.2,385.2 839.9,407.7 840.6,386.4 841.3,410.9 842.0,389.5 842.7,421.2 843.4,393.0 844.1,426.5 844.8,394.3 845.5,424.9 846.2,400.9 846.9,429.8 847.6,406.2 848.3,431.1 849.0,402.9 849.7,435.7 850.4,401.5 851.1,438.8 851.8,398.9 852.5,433.6 853.2,413.0 853.9,440.3 854.6,416.1 855.3,437.3 856.0,418.2 856.7,439.9 857.4,414.0 858.1,450.5 858.8,413.4 859.5,453.7 860.2,410.4 860.9,442.7 861.6,411.4 862.3,442.6 863.0,416.0 863.7,435.2 864.4,416.4 865.1,433.8 865.8,411.3 866.5,432.0 867.2,415.9 867.9,434.9 868.6,409.5 869.3,441.5 870.0,415.2 870.7,435.0 871.4,402.9 872.1,432.8 872.8,403.8 873.5,428.8 874.2,406.0 874.9,434.8 875.6,397.1 876.3,433.8 877.0,400.1 877.7,427.5 878.4,396.0 879.1,427.8 879.8,401.0 880.5,429.8 881.2,397.8 881.9,421.5 882.6,401.7 883.3,425.5 884.0,395.0 884.7,425.1 885.4,394.8 886.1,422.7 886.8,396.2 887.5,424.4 888.2,393.9 888.9,425.5 889.6,388.0 890.3,429.9 891.0,396.6 891.7,421.0 892.4,392.1 893.1,427.4 893.8,398.7 894.5,421.1 895.2,393.1 895.9,421.0 896.6,393.1 897.3,418.6 898.0,388.3 898.7,425.6 899.4,399.0 900.1,417.3 900.8,396.9 901.5,420.4 902.2,393.9 902.9,425.7 903.6,392.4 904.3,421.8 905.0,396.3 905.7,426.1 906.4,388.1 907.1,426.4 907.8,390.5 908.5,425.9 909.2,382.5 909.9,418.8 910.6,389.1 911.3,411.2 912.0,379.9 912.7,406.6 913.4,383.8 914.1,400.5 914.8,378.4 915.5,401.9 916.2,373.4 916.9,400.5 917.6,381.1 918.3,399.7 919.0,386.3 919.7,409.9 920.4,389.0 921.1,415.1 921.8,401.2 922.5,420.9 923.2,403.3 923.9,425.9 924.6,407.3 925.3,435.6 926.0,408.0 926.7,422.7 927.4,402.1 928.1,423.0 928.8,403.9 929.5,416.8 930.2,398.9 930.9,417.2 931.6,399.0 932.3,411.2 933.0,396.1 933.7,413.1 934.4,385.5 935.1,408.0 935.8,384.7 936.5,401.7 937.2,378.1 937.9,394.2 938.6,371.5 939.3,389.0 940.0,357.8 940.7,380.3 941.4,357.5 942.1,377.3 942.8,358.1 943.5,378.2 944.2,354.5 944.9,380.6 945.6,350.0 946.3,373.4 947.0,353.9 947.7,376.5 948.4,349.7 949.1,372.8 949.8,351.2 950.5,375.4 951.2,354.9 951.9,374.7 952.6,358.7 953.3,380.7 954.0,363.7 954.7,392.7 955.4,363.5 956.1,391.6 956.8,371.7 957.5,396.2 958.2,381.5 958.9,403.4 959.6,387.6 960.3,410.4 961.0,393.7 961.7,413.3 962.4,398.3 963.1,417.4 963.8,398.6 964.5,417.6 965.2,406.6 965.9,418.3 966.6,411.3 967.3,423.9 968.0,407.3 968.7,430.6 969.4,412.2 970.1,436.0 970.8,415.0 971.5,438.4 972.2,415.8 972.9,443.3 973.6,429.3 974.3,442.2 975.0,428.0 975.7,445.0 976.4,427.9 977.1,445.2 977.8,432.0 978.5,443.7 979.2,428.2 979.9,439.7 980.6,424.3 981.3,440.3 982.0,422.7 982.7,440.3 983.4,423.0 984.1,435.1 984.8,421.5 985.5,436.6 986.2,420.9 986.9,444.1 987.6,415.9 988.3,445.8 989.0,416.2 989.7,447.5 990.4,418.8 991.1,440.1 991.8,416.0 992.5,454.3 993.2,416.0 993.9,450.9 994.6,417.3 995.3,456.1 996.0,415.0 996.7,453.8 997.4,417.2 998.1,457.5 998.8,416.0 999.5,454.6 1000.2,420.9 1000.9,454.8 1001.6,423.9 1002.3,462.1 1003.0,419.1 1003.7,454.5 1004.4,425.2 1005.1,462.3 1005.8,424.4 1006.5,459.9 1007.2,425.6 1007.9,457.6 1008.6,421.9 1009.3,467.6 1010.0,425.0 1010.7,470.3 1011.4,418.9 1012.1,464.0 1012.8,429.9 1013.5,460.7 1014.2,425.8 1014.9,461.8 1015.6,425.6 1016.3,459.9 1017.0,428.6 1017.7,464.4 1018.4,422.5 1019.1,474.6 1019.8,426.5 1020.5,463.0 1021.2,434.7 1021.9,468.1 1022.6,425.6 1023.3,474.9 1024.0,425.1 1024.7,464.8 1025.4,432.4 1026.1,459.1 1026.8,418.1 1027.5,468.8 1028.2,430.0 1028.9,469.6 1029.6,423.3 1030.3,475.8 1031.0,426.1 1031.7,469.2 1032.4,422.4 1033.1,467.0 1033.8,439.0 1034.5,464.2 1035.2,438.6 1035.9,469.3 1036.6,440.1 1037.3,480.7 1038.0,435.3 1038.7,474.4 1039.4,443.4 1040.1,473.2 1040.8,449.5 1041.5,468.5 1042.2,452.0 1042.9,471.2 1043.6,448.1 1044.3,485.6 1045.0,447.5 1045.7,487.7 1046.4,453.0 1047.1,487.6 1047.8,462.8 1048.5,480.2 1049.2,457.3 1049.9,487.4 1050.6,459.0 1051.3,486.1 1052.0,459.0 1052.7,487.0 1053.4,455.5 1054.1,495.2 1054.8,460.0 1055.5,495.0 1056.2,467.2 1056.9,497.1 1057.6,464.7 1058.3,496.7 1059.0,467.8 1059.7,504.2 1060.4,480.2 1061.1,504.9 1061.8,483.6 1062.5,503.8 1063.2,483.1 1063.9,504.4 1064.6,484.3 1065.3,509.1 1066.0,483.2 1066.7,516.7 1067.4,479.2 1068.1,521.3 1068.8,487.4 1069.5,524.1 1070.2,496.3 1070.9,521.1 1071.6,502.7 1072.3,522.6 1073.0,505.8 1073.7,529.9 1074.4,514.6 1075.1,537.1 1075.8,509.6 1076.5,539.6 1077.2,517.9 1077.9,545.2 1078.6,523.8 1079.3,552.2 1080.0,527.7 1080.7,560.2 1081.4,539.4 1082.1,573.1 1082.8,555.8 1083.5,576.4 1084.2,566.0 1084.9,596.6 1085.6,570.6 1086.3,606.9" stroke="#D95319"/>
<path d="M156.0,515.3 156.7,537.2 157.4,519.5 158.1,538.1 158.8,518.3 159.5,536.9 160.2,515.4 160.9,532.6 161.6,513.4 162.3,524.5 163.0,507.4 163.7,525.5 164.4,508.2 165.1,527.0 165.8,518.4 166.5,528.7 167.2,511.4 167.9,522.2 168.6,504.6 169.3,525.0 170.0,495.1 170.7,518.8 171.4,492.4 172.1,523.8 172.8,504.8 173.5,530.5 174.2,515.0 174.9,540.9 175.6,522.8 176.3,551.5 177.0,531.6 177.7,555.7 178.4,538.3 179.1,563.6 179.8,550.2 180.5,571.5 181.2,550.3 181.9,565.3 182.6,547.3 183.3,567.9 184.0,547.0 184.7,562.4 185.4,547.1 186.1,566.2 186.8,539.9 187.5,560.8 188.2,533.5 188.9,553.1 189.6,527.1 190.3,546.8 191.0,519.6 191.7,537.7 192.4,513.1 193.1,533.9 193.8,509.4 194.5,528.2 195.2,502.4 195.9,517.4 196.6,498.4 197.3,509.8 198.0,495.5 198.7,512.5 199.4,484.9 200.1,509.9 200.8,485.7 201.5,514.8 202.2,484.9 202.9,497.8 203.6,473.6 204.3,486.8 205.0,466.4 205.7,478.4 206.4,455.2 207.1,473.2 207.8,446.8 208.5,461.5 209.2,438.6 209.9,455.1 210.6,434.9 211.3,445.4 212.0,422.9 212.7,438.0 213.4,421.7 214.1,435.7 214.8,414.5 215.5,427.2 216.2,403.7 216.9,423.1 217.6,399.2 218.3,421.1 219.0,397.2 219.7,420.1 220.4,405.1 221.1,424.4 221.8,403.6 222.5,425.0 223.2,408.3 223.9,424.7 224.6,409.5 225.3,426.9 226.0,417.9 226.7,436.1 227.4,422.8 228.1,439.1 228.8,431.3 229.5,445.8 230.2,430.9 230.9,446.6 231.6,424.0 232.3,441.5 233.0,416.8 233.7,434.7 234.4,412.5 235.1,434.9 235.8,406.6 236.5,424.7 237.2,405.5 237.9,421.7 238.6,397.5 239.3,391.7 240.0,361.3 240.0,400.0 240.0,345.0 240.0,400.0 240.7,415.8 241.4,401.3 242.1,414.3 242.8,394.8 243.5,415.3 244.2,390.5 244.9,410.3 245.6,391.7 246.3,416.2 247.0,400.8 247.7,420.9 248.4,396.7 249.1,428.4 249.8,400.0 250.5,423.8 251.2,402.0 251.9,413.4 252.6,393.2 253.3,406.9 254.0,389.7 254.7,407.1 255.4,384.1 256.1,397.8 256.8,381.2 257.5,396.5 258.2,380.3 258.9,403.4 259.6,388.5 260.3,411.7 261.0,389.5 261.7,417.2 262.4,399.1 263.1,420.7 263.8,408.3 264.5,431.5 265.2,417.4 265.9,449.5 266.6,427.2 267.3,460.7 268.0,439.4 268.7,469.5 269.4,457.9 270.1,478.9 270.8,471.6 271.5,496.4 272.2,489.6 272.9,512.2 273.6,497.4 274.3,509.0 275.0,486.9 275.7,497.9 276.4,469.5 277.1,479.4 277.8,450.7 278.5,466.7 279.2,429.7 279.9,444.5 280.6,413.6 281.3,433.5 282.0,415.7 282.7,441.1 283.4,416.1 284.1,438.9 284.8,425.9 285.5,438.9 286.2,419.1 286.9,425.5 287.6,399.9 288.3,413.3 289.0,385.3 289.7,399.1 290.4,370.6 291.1,385.9 291.8,359.2 292.5,368.4 293.2,343.4 293.9,355.5 294.6,333.7 295.3,345.5 296.0,317.6 296.7,325.0 297.4,309.9 298.1,329.4 298.8,306.5 299.5,328.3 300.2,306.6 300.9,320.3 301.6,302.8 302.3,319.4 303.0,293.1 303.7,312.0 304.4,296.5 305.1,310.2 305.8,292.6 306.5,304.0 307.2,284.7 307.9,302.9 308.6,279.3 309.3,296.7 310.0,279.8 310.7,294.2 311.4,276.1 312.1,287.7 312.8,267.7 313.5,281.2 314.2,270.1 314.9,278.3 315.6,259.0 316.3,279.6 317.0,262.7 317.7,276.8 318.4,256.7 319.1,277.2 319.8,258.3 320.5,278.7 321.2,262.8 321.9,281.1 322.6,265.7 323.3,282.2 324.0,271.7 324.7,280.7 325.4,272.4 326.1,285.0 326.8,270.0 327.5,291.3 328.2,269.8 328.9,292.2 329.6,277.0 330.3,292.9 331.0,277.9 331.7,294.4 332.4,278.2 333.1,295.6 333.8,282.1 334.5,299.7 335.2,283.3 335.9,295.7 336.6,284.1 337.3,293.6 338.0,280.8 338.7,298.0 339.4,283.8 340.1,297.5 340.8,280.5 341.5,299.4 342.2,280.5 342.9,293.8 343.6,276.8 344.3,293.3 345.0,275.6 345.7,288.6 346.4,276.9 347.1,286.1 347.8,279.6 348.5,287.2 349.2,271.5 349.9,288.1 350.6,275.0 351.3,286.8 352.0,270.2 352.7,290.3 353.4,272.2 354.1,290.7 354.8,272.1 355.5,291.1 356.2,274.9 356.9,290.1 357.6,274.4 358.3,288.1 359.0,278.2 359.7,287.2 360.4,276.0 361.1,293.1 361.8,272.5 362.5,292.8 363.2,274.5 363.9,287.6 364.6,269.4 365.3,291.3 366.0,269.0 366.7,286.1 367.4,270.5 368.1,283.7 368.8,265.7 369.5,280.2 370.2,262.4 370.9,277.4 371.6,265.1 372.3,277.1 373.0,262.2 373.7,275.3 374.4,256.3 375.1,270.3 375.8,254.6 376.5,264.5 377.2,250.2 377.9,263.4 378.6,245.6 379.3,261.6 380.0,243.7 380.7,263.5 381.4,239.9 382.1,259.7 382.8,240.9 383.5,255.3 384.2,236.4 384.9,253.7 385.6,240.1 386.3,248.3 387.0,240.2 387.7,250.2 388.4,235.6 389.1,252.8 389.8,240.4 390.5,250.9 391.2,246.7 391.9,261.8 392.6,250.2 393.3,268.6 394.0,256.2 394.7,275.2 395.4,258.9 396.1,280.5 396.8,269.0 397.5,282.6 398.2,276.5 398.9,293.0 399.6,278.5 400.3,295.2 401.0,276.9 401.7,288.9 402.4,276.1 403.1,281.7 403.8,269.8 404.5,276.2 405.2,266.0 405.9,271.1 406.6,257.9 407.3,264.1 408.0,251.7 408.7,257.6 409.4,245.4 410.1,257.1 410.8,240.7 411.5,256.2 412.2,241.6 412.9,260.8 413.6,249.0 414.3,259.4 415.0,250.0 415.7,262.2 416.4,251.4 417.1,269.6 417.8,253.6 418.5,270.0 419.2,254.0 419.9,268.6 420.6,258.3 421.3,269.1 422.0,258.2 422.7,275.5 423.4,259.8 424.1,278.1 424.8,259.0 425.5,277.8 426.2,266.1 426.9,278.5 427.6,264.7 428.3,279.2 429.0,269.6 429.7,285.2 430.4,270.1 431.1,290.7 431.8,270.9 432.5,288.9 433.2,276.2 433.9,291.2 434.6,275.7 435.3,292.8 436.0,281.4 436.7,292.6 437.4,283.0 438.1,294.4 438.8,279.1 439.5,293.0 440.2,278.9 440.9,289.5 441.6,276.1 442.3,285.6 443.0,274.4 443.7,287.0 444.4,269.2 445.1,286.8 445.8,273.4 446.5,286.2 447.2,271.0 447.9,287.3 448.6,269.6 449.3,283.2 450.0,273.1 450.7,280.1 451.4,272.1 452.1,280.1 452.8,266.1 453.5,280.2 454.2,263.6 454.9,278.5 455.6,262.4 456.3,274.9 457.0,260.5 457.7,276.0 458.4,259.5 459.1,271.8 459.8,258.3 460.5,270.1 461.2,255.9 461.9,267.5 462.6,256.1 463.3,267.2 464.0,255.0 464.7,271.7 465.4,248.7 466.1,266.4 466.8,243.9 467.5,258.1 468.2,241.7 468.9,252.6 469.6,240.2 470.3,251.1 471.0,239.1 471.7,245.8 472.4,235.5 473.1,245.0 473.8,227.7 474.5,242.0 475.2,228.5 475.9,243.7 476.6,226.1 477.3,243.0 478.0,228.0 478.7,248.7 479.4,230.3 480.1,249.0 480.8,233.0 481.5,249.5 482.2,236.3 482.9,251.8 483.6,237.5 484.3,256.5 485.0,241.5 485.7,255.8 486.4,245.2 487.1,255.2 487.8,245.3 488.5,255.3 489.2,240.5 489.9,262.9 490.6,247.0 491.3,264.7 492.0,247.2 492.7,266.0 493.4,251.3 494.1,265.6 494.8,254.8 495.5,266.3 496.2,253.2 496.9,269.3 497.6,255.6 498.3,270.6 499.0,253.9 499.7,270.8 500.4,254.2 501.1,270.2 501.8,253.1 502.5,269.3 503.2,254.8 503.9,268.0 504.6,253.4 505.3,272.0 506.0,253.1 506.7,269.1 507.4,251.1 508.1,267.4 508.8,250.2 509.5,265.9 510.2,250.0 510.9,267.4 511.6,247.9 512.3,267.2 513.0,250.6 513.7,261.7 514.4,248.4 515.1,259.1 515.8,247.5 516.5,257.5 517.2,243.3 517.9,257.5 518.6,244.6 519.3,256.0 520.0,240.9 520.7,255.8 521.4,239.3 522.1,253.7 522.8,239.2 523.5,253.1 524.2,239.8 524.9,251.6 525.6,243.6 526.3,251.6 527.0,238.6 527.7,256.5 528.4,242.6 529.1,256.2 529.8,244.3 530.5,257.8 531.2,249.4 531.9,264.3 532.6,257.0 533.3,268.0 534.0,260.0 534.7,274.5 535.4,265.2 536.1,280.9 536.8,270.2 537.5,289.3 538.2,279.0 538.9,293.0 539.6,281.6 540.3,296.1 541.0,287.5 541.7,299.8 542.4,289.2 543.1,303.4 543.8,291.8 544.5,306.6 545.2,293.4 545.9,302.1 546.6,286.0 547.3,301.2 548.0,285.3 548.7,298.5 549.4,282.8 550.1,295.1 550.8,281.3 551.5,289.9 552.2,275.9 552.9,291.7 553.6,270.9 554.3,290.2 555.0,269.9 555.7,284.9 556.4,272.3 557.1,284.6 557.8,270.4 558.5,284.4 559.2,264.7 559.9,283.7 560.6,262.5 561.3,278.7 562.0,267.5 562.7,277.1 563.4,265.6 564.1,276.7 564.8,261.4 565.5,278.4 566.2,261.9 566.9,277.9 567.6,260.5 568.3,277.1 569.0,264.2 569.7,276.8 570.4,261.1 571.1,278.9 571.8,258.1 572.5,278.8 573.2,259.8 573.9,275.5 574.6,263.7 575.3,275.9 576.0,261.2 576.7,283.1 577.4,261.6 578.1,282.5 578.8,265.8 579.5,283.9 580.2,269.5 580.9,288.9 581.6,277.3 582.3,294.2 583.0,283.7 583.7,304.2 584.4,293.8 585.1,311.5 585.8,298.8 586.5,312.6 587.2,299.2 587.9,312.8 588.6,300.6 589.3,311.6 590.0,302.9 590.7,306.9 591.4,300.5 592.1,306.5 592.8,297.4 593.5,309.1 594.2,296.3 594.9,306.2 595.6,294.5 596.3,308.9 597.0,292.3 597.7,301.7 598.4,290.8 599.1,300.4 599.8,287.1 600.5,296.3 601.2,285.5 601.9,294.2 602.6,279.9 603.3,298.3 604.0,271.8 604.7,293.3 605.4,265.4 606.1,276.2 606.8,257.8 607.5,269.5 608.2,248.3 608.9,261.9 609.6,234.0 610.3,250.5 611.0,222.3 611.7,247.8 612.4,216.8 613.1,242.4 613.8,215.0 614.5,235.1 615.2,213.3 615.9,231.0 616.6,215.6 617.3,235.1 618.0,225.9 618.7,248.3 619.4,233.0 620.1,255.1 620.8,240.4 621.5,264.1 622.2,248.2 622.9,269.7 623.6,260.1 624.3,283.6 625.0,278.3 625.7,301.0 626.4,292.1 627.1,319.2 627.8,312.2 628.5,333.8 629.2,332.2 629.9,349.6 630.6,342.7 631.3,371.2 632.0,364.1 632.7,388.3 633.4,380.9 634.1,404.1 634.8,398.7 635.5,419.4 636.2,406.0 636.9,425.0 637.6,417.2 638.3,434.4 639.0,428.4 639.7,441.4 640.4,430.5 641.1,443.6 641.8,434.7 642.5,446.6 643.2,433.1 643.9,444.4 644.6,429.4 645.3,438.8 646.0,427.8 646.7,436.7 647.4,423.6 648.1,432.7 648.8,419.5 649.5,423.9 650.2,413.6 650.9,420.2 651.6,408.1 652.3,417.9 653.0,409.9 653.7,415.6 654.4,406.7 655.1,414.8 655.8,401.3 656.5,410.8 657.2,397.9 657.9,409.1 658.6,396.9 659.3,405.1 660.0,394.6 660.7,405.5 661.4,393.3 662.1,405.6 662.8,390.3 663.5,405.1 664.2,389.5 664.9,404.0 665.6,384.2 666.3,398.3 667.0,388.9 667.7,396.2 668.4,386.5 669.1,397.4 669.8,385.4 670.5,398.2 671.2,385.7 671.9,397.2 672.6,384.0 673.3,397.2 674.0,378.6 674.7,394.5 675.4,380.7 676.1,392.6 676.8,379.3 677.5,387.5 678.2,373.5 678.9,384.6 679.6,371.0 680.3,384.1 681.0,367.5 681.7,383.5 682.4,367.7 683.1,378.0 683.8,365.8 684.5,375.0 685.2,362.9 685.9,376.2 686.6,363.6 687.3,372.3 688.0,359.5 688.7,371.4 689.4,359.8 690.1,366.1 690.8,355.6 691.5,365.5 692.2,351.9 692.9,362.2 693.6,350.0 694.3,360.0 695.0,349.5 695.7,358.2 696.4,347.4 697.1,353.9 697.8,344.8 698.5,354.9 699.2,343.4 699.9,351.7 700.6,339.8 701.3,348.3 702.0,338.0 702.7,346.5 703.4,334.0 704.1,348.2 704.8,332.3 705.5,345.4 706.2,333.8 706.9,345.0 707.6,331.2 708.3,342.8 709.0,331.9 709.7,340.7 710.4,332.0 711.1,345.6 711.8,329.4 712.5,347.6 713.2,331.3 713.9,346.4 714.6,333.6 715.3,344.0 716.0,337.4 716.7,346.1 717.4,336.4 718.1,351.5 718.8,334.5 719.5,347.8 720.2,336.5 720.9,348.1 721.6,340.1 722.3,352.2 723.0,341.9 723.7,352.6 724.4,338.9 725.1,352.1 725.8,340.4 726.5,350.0 727.2,340.3 727.9,349.8 728.6,340.6 729.3,351.8 730.0,337.1 730.7,353.9 731.4,335.5 732.1,349.5 732.8,340.6 733.5,350.1 734.2,337.7 734.9,353.8 735.6,335.2 736.3,349.8 737.0,339.2 737.7,349.8 738.4,333.3 739.1,347.6 739.8,336.8 740.5,344.4 741.2,334.0 741.9,344.2 742.6,333.9 743.3,345.0 744.0,327.5 744.7,342.0 745.4,325.9 746.1,344.0 746.8,327.9 747.5,342.1 748.2,335.0 748.9,342.6 749.6,336.6 750.3,345.1 751.0,335.7 751.7,346.1 752.4,335.8 753.1,347.0 753.8,337.5 754.5,349.0 755.2,336.7 755.9,350.2 756.6,337.3 757.3,346.1 758.0,338.4 758.7,347.2 759.4,340.4 760.1,345.9 760.8,339.7 761.5,350.8 762.2,345.3 762.9,352.2 763.6,344.0 764.3,357.3 765.0,345.7 765.7,359.7 766.4,348.5 767.1,364.4 767.8,351.0 768.5,366.6 769.2,354.0 769.9,364.5 770.6,354.4 771.3,366.6 772.0,354.6 772.7,370.0 773.4,355.5 774.1,370.4 774.8,357.9 775.5,372.9 776.2,361.2 776.9,381.1 777.6,363.6 778.3,380.6 779.0,369.1 779.7,384.3 780.4,372.5 781.1,389.7 781.8,376.9 782.5,392.2 783.2,379.5 783.9,392.8 784.6,385.2 785.3,397.6 786.0,388.7 786.7,397.6 787.4,389.3 788.1,396.9 788.8,384.5 789.5,393.2 790.2,378.1 790.9,387.4 791.6,376.8 792.3,386.6 793.0,372.6 793.7,385.4 794.4,372.2 795.1,385.3 795.8,377.5 796.5,388.0 797.2,377.5 797.9,390.8 798.6,378.0 799.3,389.7 800.0,381.3 800.7,391.1 801.4,379.7 802.1,392.7 802.8,381.0 803.5,387.7 804.2,376.9 804.9,386.6 805.6,373.7 806.3,381.6 807.0,369.2 807.7,378.1 808.4,366.4 809.1,375.5 809.8,362.5 810.5,374.1 811.2,358.2 811.9,368.3 812.6,347.3 813.3,364.0 814.0,344.9 814.7,358.0 815.4,342.2 816.1,349.5 816.8,334.3 817.5,344.9 818.2,329.0 818.9,337.8 819.6,330.1 820.3,341.2 821.0,331.7 821.7,352.1 822.4,331.1 823.1,355.8 823.8,339.9 824.5,357.3 825.2,340.7 825.9,357.2 826.6,347.7 827.3,362.5 828.0,349.4 828.7,365.7 829.4,353.6 830.1,372.0 830.8,354.4 831.5,371.2 832.2,359.3 832.9,375.5 833.6,360.3 834.3,377.3 835.0,365.4 835.7,380.0 836.4,374.5 837.1,388.6 837.8,372.0 838.5,394.0 839.2,380.9 839.9,392.7 840.6,381.8 841.3,397.1 842.0,385.0 842.7,402.2 843.4,386.2 844.1,405.1 844.8,387.0 845.5,404.0 846.2,394.8 846.9,403.7 847.6,394.4 848.3,405.4 849.0,396.8 849.7,408.0 850.4,398.3 851.1,409.0 851.8,397.8 852.5,409.6 853.2,396.4 853.9,408.2 854.6,398.5 855.3,409.1 856.0,397.2 856.7,410.3 857.4,395.2 858.1,410.9 858.8,396.3 859.5,409.9 860.2,397.8 860.9,408.5 861.6,397.5 862.3,412.3 863.0,398.7 863.7,407.0 864.4,401.2 865.1,411.4 865.8,398.7 866.5,408.3 867.2,398.3 867.9,408.6 868.6,395.8 869.3,409.2 870.0,394.4 870.7,406.7 871.4,397.2 872.1,409.8 872.8,392.5 873.5,407.1 874.2,395.8 874.9,402.3 875.6,395.4 876.3,402.8 877.0,389.2 877.7,405.2 878.4,386.4 879.1,399.6 879.8,387.3 880.5,398.9 881.2,384.3 881.9,401.0 882.6,381.7 883.3,398.0 884.0,383.1 884.7,403.5 885.4,379.0 886.1,401.4 886.8,378.6 887.5,399.1 888.2,377.6 888.9,398.9 889.6,381.0 890.3,393.8 891.0,377.8 891.7,396.4 892.4,378.5 893.1,390.1 893.8,377.9 894.5,389.9 895.2,379.5 895.9,387.5 896.6,377.1 897.3,387.3 898.0,379.8 898.7,388.0 899.4,378.1 900.1,386.8 900.8,376.1 901.5,391.6 902.2,380.2 902.9,390.0 903.6,379.6 904.3,390.2 905.0,380.8 905.7,388.1 906.4,378.9 907.1,388.0 907.8,376.4 908.5,387.4 909.2,377.3 909.9,386.9 910.6,373.9 911.3,381.9 912.0,368.0 912.7,377.8 913.4,359.5 914.1,373.4 914.8,359.4 915.5,375.1 916.2,356.7 916.9,370.5 917.6,358.6 918.3,368.2 919.0,358.2 919.7,373.4 920.4,362.9 921.1,372.9 921.8,362.4 922.5,369.2 923.2,363.7 923.9,371.2 924.6,362.9 925.3,373.3 926.0,362.1 926.7,372.1 927.4,364.7 928.1,371.9 928.8,366.4 929.5,370.2 930.2,365.0 930.9,371.7 931.6,365.8 932.3,371.6 933.0,362.7 933.7,370.5 934.4,360.8 935.1,371.7 935.8,356.9 936.5,364.9 937.2,350.7 937.9,359.5 938.6,346.1 939.3,357.0 940.0,344.0 940.7,355.3 941.4,340.4 942.1,351.0 942.8,336.1 943.5,354.2 944.2,337.0 944.9,353.1 945.6,340.7 946.3,352.7 947.0,336.6 947.7,352.6 948.4,344.3 949.1,353.7 949.8,345.4 950.5,361.5 951.2,341.1 951.9,360.6 952.6,341.7 953.3,360.6 954.0,346.2 954.7,360.8 955.4,349.7 956.1,366.3 956.8,349.1 957.5,367.7 958.2,351.5 958.9,373.3 959.6,357.4 960.3,373.2 961.0,362.9 961.7,378.6 962.4,367.4 963.1,384.1 963.8,370.7 964.5,392.8 965.2,377.6 965.9,389.9 966.6,372.9 967.3,393.1 968.0,379.1 968.7,392.8 969.4,376.9 970.1,396.8 970.8,379.1 971.5,403.7 972.2,380.9 972.9,406.6 973.6,385.7 974.3,401.2 975.0,388.9 975.7,403.9 976.4,390.0 977.1,405.2 977.8,394.8 978.5,404.2 979.2,393.4 979.9,401.9 980.6,387.8 981.3,402.0 982.0,388.6 982.7,400.1 983.4,389.7 984.1,399.1 984.8,390.1 985.5,400.2 986.2,388.6 986.9,405.6 987.6,396.6 988.3,404.5 989.0,397.4 989.7,409.3 990.4,398.8 991.1,409.8 991.8,401.2 992.5,419.9 993.2,401.9 993.9,416.7 994.6,407.4 995.3,420.9 996.0,413.1 996.7,419.8 997.4,410.4 998.1,424.7 998.8,410.9 999.5,421.2 1000.2,414.1 1000.9,422.0 1001.6,414.9 1002.3,426.6 1003.0,413.5 1003.7,431.0 1004.4,416.4 1005.1,427.8 1005.8,417.7 1006.5,435.8 1007.2,409.2 1007.9,429.4 1008.6,415.5 1009.3,429.7 1010.0,415.0 1010.7,430.2 1011.4,411.9 1012.1,428.4 1012.8,413.3 1013.5,428.9 1014.2,408.1 1014.9,432.8 1015.6,417.7 1016.3,440.7 1017.0,421.0 1017.7,433.4 1018.4,424.9 1019.1,438.3 1019.8,418.9 1020.5,438.0 1021.2,414.9 1021.9,436.2 1022.6,419.8 1023.3,434.9 1024.0,421.5 1024.7,436.1 1025.4,416.5 1026.1,440.6 1026.8,412.5 1027.5,440.6 1028.2,419.6 1028.9,443.3 1029.6,420.1 1030.3,441.6 1031.0,421.9 1031.7,437.5 1032.4,422.4 1033.1,446.0 1033.8,420.3 1034.5,448.3 1035.2,423.1 1035.9,453.3 1036.6,416.2 1037.3,447.9 1038.0,428.9 1038.7,448.2 1039.4,432.7 1040.1,447.0 1040.8,433.3 1041.5,445.6 1042.2,434.8 1042.9,447.2 1043.6,437.7 1044.3,452.2 1045.0,440.4 1045.7,452.1 1046.4,437.9 1047.1,464.4 1047.8,438.0 1048.5,458.4 1049.2,438.5 1049.9,461.4 1050.6,444.9 1051.3,462.9 1052.0,440.6 1052.7,465.7 1053.4,445.2 1054.1,471.8 1054.8,448.9 1055.5,465.6 1056.2,454.0 1056.9,463.5 1057.6,449.9 1058.3,467.9 1059.0,449.4 1059.7,467.1 1060.4,453.6 1061.1,467.6 1061.8,450.6 1062.5,480.9 1063.2,442.1 1063.9,479.7 1064.6,443.3 1065.3,479.2 1066.0,456.2 1066.7,477.0 1067.4,454.2 1068.1,481.9 1068.8,466.4 1069.5,488.7 1070.2,467.3 1070.9,495.6 1071.6,473.2 1072.3,492.3 1073.0,478.1 1073.7,504.2 1074.4,479.7 1075.1,503.2 1075.8,486.4 1076.5,509.3 1077.2,491.8 1077.9,510.5 1078.6,490.6 1079.3,514.3 1080.0,496.3 1080.7,514.4 1081.4,505.6 1082.1,518.2 1082.8,508.5 1083.5,525.4 1084.2,516.6 1084.9,534.4 1085.6,524.1 1086.3,546.8" stroke="#EDB120"/>
<path d="M156.0,686.8 156.7,710.8 157.4,682.0 158.1,704.3 158.8,686.7 159.5,690.3 160.2,678.4 160.9,690.9 161.6,667.5 162.3,681.5 163.0,665.3 163.7,702.7 164.4,685.4 165.1,702.9 165.8,674.2 166.5,689.8 167.2,669.7 167.9,676.0 168.6,644.9 169.3,682.1 170.0,656.3 170.7,685.1 171.4,670.0 172.1,698.1 172.8,687.0 173.5,709.9 174.2,693.1 174.9,725.5 175.6,706.2 176.3,738.5 177.0,717.3 177.7,748.4 178.4,731.6 179.1,762.2 179.8,750.9 180.5,774.4 181.2,755.1 181.9,777.2 182.6,752.7 183.3,764.9 184.0,746.2 184.7,760.1 185.4,739.2 186.1,757.4 186.8,732.0 187.5,748.3 188.2,720.9 188.9,743.7 189.6,710.8 190.3,721.7 191.0,702.3 191.7,711.1 192.4,686.4 193.1,701.6 193.8,680.1 194.5,703.4 195.2,660.4 195.9,686.5 196.6,650.9 197.3,674.7 198.0,650.4 198.7,667.8 199.4,643.0 200.1,654.2 200.8,636.7 201.5,640.1 202.2,627.7 202.9,631.2 203.6,618.4 204.3,628.5 205.0,615.8 205.7,620.8 206.4,604.1 207.1,617.8 207.8,593.9 208.5,603.0 209.2,588.0 209.9,598.9 210.6,576.1 211.3,587.7 212.0,560.9 212.7,581.3 213.4,550.1 214.1,565.9 214.8,545.0 215.5,548.0 216.2,532.3 216.9,539.9 217.6,535.5 218.3,546.7 219.0,539.0 219.7,554.7 220.4,541.0 221.1,573.0 221.8,547.0 222.5,573.2 223.2,545.2 223.9,575.6 224.6,568.6 225.3,586.4 226.0,574.1 226.7,604.0 227.4,590.2 228.1,613.6 228.8,587.2 229.5,619.6 230.2,581.1 230.9,593.9 231.6,572.4 232.3,581.4 233.0,566.3 233.7,572.9 234.4,543.6 235.1,556.3 235.8,540.4 236.5,554.4 237.2,536.9 237.9,549.4 238.6,526.2 239.3,536.4 240.0,508.1 240.0,540.0 240.0,502.0 240.0,540.0 240.7,537.6 241.4,537.3 242.1,546.3 242.8,536.0 243.5,543.7 244.2,534.5 244.9,554.4 245.6,537.2 246.3,559.3 247.0,545.2 247.7,566.6 248.4,555.4 249.1,575.2 249.8,556.1 250.5,578.0 251.2,567.0 251.9,579.8 252.6,562.9 253.3,585.6 254.0,554.6 254.7,570.0 255.4,543.1 256.1,571.7 256.8,539.9 257.5,566.1 258.2,551.6 258.9,578.3 259.6,573.0 260.3,596.6 261.0,595.1 261.7,617.1 262.4,611.1 263.1,640.4 263.8,632.4 264.5,670.3 265.2,661.3 265.9,683.9 266.6,687.7 267.3,707.5 268.0,705.5 268.7,730.4 269.4,726.6 270.1,753.2 270.8,743.6 271.5,787.9 272.2,787.7 272.9,807.3 273.6,770.4 274.3,775.6 275.0,736.6 275.7,738.0 276.4,707.1 277.1,715.4 277.8,681.1 278.5,671.6 279.2,634.7 279.9,636.8 280.6,620.6 281.3,640.6 282.0,635.1 282.7,648.4 283.4,634.6 284.1,651.8 284.8,623.6 285.5,651.6 286.2,612.0 286.9,615.2 287.6,589.6 288.3,592.8 289.0,553.1 289.7,540.7 290.4,488.0 291.1,481.3 291.8,464.2 292.5,466.3 293.2,439.2 293.9,455.8 294.6,432.3 295.3,443.1 296.0,418.2 296.7,438.9 297.4,418.3 298.1,432.3 298.8,425.0 299.5,439.0 300.2,434.8 300.9,444.3 301.6,424.5 302.3,445.1 303.0,417.3 303.7,440.3 304.4,396.1 305.1,425.7 305.8,389.3 306.5,415.5 307.2,400.3 307.9,403.3 308.6,384.2 309.3,398.4 310.0,371.1 310.7,399.9 311.4,368.1 312.1,374.6 312.8,345.5 313.5,367.8 314.2,349.2 314.9,369.3 315.6,338.8 316.3,364.3 317.0,331.6 317.7,352.6 318.4,326.4 319.1,342.3 319.8,322.0 320.5,336.7 321.2,325.2 321.9,338.1 322.6,322.8 323.3,352.5 324.0,324.5 324.7,346.5 325.4,318.9 326.1,349.1 326.8,331.9 327.5,366.1 328.2,330.4 328.9,342.6 329.6,327.2 330.3,340.7 331.0,329.0 331.7,341.3 332.4,323.4 333.1,344.3 333.8,311.8 334.5,341.7 335.2,326.6 335.9,346.0 336.6,312.2 337.3,343.4 338.0,329.3 338.7,338.7 339.4,324.8 340.1,343.6 340.8,318.2 341.5,329.9 342.2,316.8 342.9,341.6 343.6,298.5 344.3,324.9 345.0,289.3 345.7,319.2 346.4,293.2 347.1,308.6 347.8,299.5 348.5,308.1 349.2,287.3 349.9,306.1 350.6,281.8 351.3,299.0 352.0,291.5 352.7,310.4 353.4,291.9 354.1,332.9 354.8,295.6 355.5,302.9 356.2,271.0 356.9,302.9 357.6,284.3 358.3,302.0 359.0,291.9 359.7,311.4 360.4,292.5 361.1,306.0 361.8,285.2 362.5,311.8 363.2,292.1 363.9,303.7 364.6,294.6 365.3,299.1 366.0,288.7 366.7,299.5 367.4,283.0 368.1,298.7 368.8,275.5 369.5,291.4 370.2,279.4 370.9,285.1 371.6,275.0 372.3,285.7 373.0,272.1 373.7,282.4 374.4,264.6 375.1,278.7 375.8,262.1 376.5,275.0 377.2,261.3 377.9,268.6 378.6,255.0 379.3,263.3 380.0,254.5 380.7,260.2 381.4,249.6 382.1,259.9 382.8,245.3 383.5,260.6 384.2,249.4 384.9,267.6 385.6,256.0 386.3,266.0 387.0,259.3 387.7,270.5 388.4,262.7 389.1,277.8 389.8,271.7 390.5,292.0 391.2,278.3 391.9,297.1 392.6,287.1 393.3,305.9 394.0,297.7 394.7,311.6 395.4,303.8 396.1,320.3 396.8,312.6 397.5,326.5 398.2,319.4 398.9,332.7 399.6,326.0 400.3,343.3 401.0,333.4 401.7,340.0 402.4,318.7 403.1,321.8 403.8,304.3 404.5,305.2 405.2,290.4 405.9,296.0 406.6,273.5 407.3,279.8 408.0,262.8 408.7,269.4 409.4,257.8 410.1,273.0 410.8,263.9 411.5,275.6 412.2,269.5 412.9,284.1 413.6,280.8 414.3,296.8 415.0,288.8 415.7,301.5 416.4,296.6 417.1,309.7 417.8,302.4 418.5,317.1 419.2,306.2 419.9,315.4 420.6,305.4 421.3,317.9 422.0,304.3 422.7,313.7 423.4,302.9 424.1,309.9 424.8,295.7 425.5,305.7 426.2,290.0 426.9,295.6 427.6,290.1 428.3,302.8 429.0,301.1 429.7,317.7 430.4,314.3 431.1,326.7 431.8,323.1 432.5,338.3 433.2,329.6 433.9,348.6 434.6,340.9 435.3,355.8 436.0,352.5 436.7,359.8 437.4,340.3 438.1,348.4 438.8,326.8 439.5,336.5 440.2,321.3 440.9,332.7 441.6,315.2 442.3,331.0 443.0,311.2 443.7,322.8 444.4,315.6 445.1,327.8 445.8,316.3 446.5,334.7 447.2,321.3 447.9,336.1 448.6,317.5 449.3,325.3 450.0,308.2 450.7,314.5 451.4,300.6 452.1,305.2 452.8,290.4 453.5,301.5 454.2,278.7 454.9,288.8 455.6,276.9 456.3,288.7 457.0,275.5 457.7,286.3 458.4,277.0 459.1,284.4 459.8,279.2 460.5,287.7 461.2,276.3 461.9,285.7 462.6,278.2 463.3,287.4 464.0,277.3 464.7,287.6 465.4,273.5 466.1,282.0 466.8,270.0 467.5,276.7 468.2,267.3 468.9,274.0 469.6,261.7 470.3,268.9 471.0,250.8 471.7,264.1 472.4,248.2 473.1,248.8 473.8,238.0 474.5,237.7 475.2,225.8 475.9,235.1 476.6,231.5 477.3,244.6 478.0,242.9 478.7,253.1 479.4,248.2 480.1,265.1 480.8,253.2 481.5,268.9 482.2,261.6 482.9,272.4 483.6,261.9 484.3,276.6 485.0,259.0 485.7,278.0 486.4,261.0 487.1,273.6 487.8,263.3 488.5,279.5 489.2,267.8 489.9,279.0 490.6,268.5 491.3,280.2 492.0,272.9 492.7,287.1 493.4,279.0 494.1,289.0 494.8,274.5 495.5,292.0 496.2,278.5 496.9,287.2 497.6,278.4 498.3,292.8 499.0,275.8 499.7,288.7 500.4,273.7 501.1,286.5 501.8,272.1 502.5,279.6 503.2,265.7 503.9,278.0 504.6,269.2 505.3,278.3 506.0,270.8 506.7,278.4 507.4,271.0 508.1,277.2 508.8,263.3 509.5,277.3 510.2,263.3 510.9,270.1 511.6,259.3 512.3,268.7 513.0,253.0 513.7,264.2 514.4,251.6 515.1,263.6 515.8,243.7 516.5,258.5 517.2,245.6 517.9,256.8 518.6,241.1 519.3,251.3 520.0,239.1 520.7,250.3 521.4,230.3 522.1,239.7 522.8,228.0 523.5,238.7 524.2,228.4 524.9,241.0 525.6,229.6 526.3,244.0 527.0,235.4 527.7,244.3 528.4,237.9 529.1,253.8 529.8,241.7 530.5,254.6 531.2,254.1 531.9,265.5 532.6,261.4 533.3,280.6 534.0,270.0 534.7,285.8 535.4,283.2 536.1,293.4 536.8,293.8 537.5,304.1 538.2,299.4 538.9,318.0 539.6,312.2 540.3,323.3 541.0,314.2 541.7,331.6 542.4,322.5 543.1,331.7 543.8,327.9 544.5,341.2 545.2,331.9 545.9,344.2 546.6,321.9 547.3,322.6 548.0,305.6 548.7,312.7 549.4,295.6 550.1,298.4 550.8,286.5 551.5,293.2 552.2,283.8 552.9,289.0 553.6,275.5 554.3,282.9 555.0,271.2 555.7,281.1 556.4,269.0 557.1,275.7 557.8,267.7 558.5,273.9 559.2,261.6 559.9,272.4 560.6,255.7 561.3,266.6 562.0,256.5 562.7,261.4 563.4,253.7 564.1,262.2 564.8,248.2 565.5,256.2 566.2,247.8 566.9,252.5 567.6,242.5 568.3,253.9 569.0,238.1 569.7,248.3 570.4,238.1 571.1,249.4 571.8,238.2 572.5,247.9 573.2,239.5 573.9,251.7 574.6,244.4 575.3,251.9 576.0,246.9 576.7,261.9 577.4,244.9 578.1,261.1 578.8,248.1 579.5,265.2 580.2,253.9 580.9,264.6 581.6,258.1 582.3,273.7 583.0,273.2 583.7,281.8 584.4,275.6 585.1,280.3 585.8,267.5 586.5,276.2 587.2,263.5 587.9,271.6 588.6,259.8 589.3,271.1 590.0,257.6 590.7,265.2 591.4,255.0 592.1,264.3 592.8,250.0 593.5,259.3 594.2,249.0 594.9,251.4 595.6,243.5 596.3,247.0 597.0,236.1 597.7,238.7 598.4,226.7 599.1,227.6 599.8,216.1 600.5,221.6 601.2,202.4 601.9,209.2 602.6,195.9 603.3,199.0 604.0,190.6 604.7,192.0 605.4,177.1 606.1,167.9 606.8,146.0 607.5,144.3 608.2,123.3 608.9,123.6 609.6,105.8 610.3,103.1 611.0,92.6 611.7,93.7 612.4,81.2 613.1,84.6 613.8,74.4 614.5,76.7 615.2,67.2 615.9,77.1 616.6,71.8 617.3,83.1 618.0,77.5 618.7,92.9 619.4,95.1 620.1,107.4 620.8,110.6 621.5,130.7 622.2,127.3 622.9,144.9 623.6,147.6 624.3,165.2 625.0,170.8 625.7,190.6 626.4,193.6 627.1,216.8 627.8,216.7 628.5,243.7 629.2,240.6 629.9,265.2 630.6,269.2 631.3,288.5 632.0,290.5 632.7,309.2 633.4,311.2 634.1,333.6 634.8,335.0 635.5,359.3 636.2,356.6 636.9,380.8 637.6,386.8 638.3,403.9 639.0,409.3 639.7,422.2 640.4,423.4 641.1,434.4 641.8,432.2 642.5,435.9 643.2,428.3 643.9,434.9 644.6,425.1 645.3,430.3 646.0,422.8 646.7,428.4 647.4,418.6 648.1,427.6 648.8,413.8 649.5,425.0 650.2,414.8 650.9,428.2 651.6,417.0 652.3,421.1 653.0,414.9 653.7,419.1 654.4,410.7 655.1,420.7 655.8,412.5 656.5,420.1 657.2,414.0 657.9,418.4 658.6,410.2 659.3,416.7 660.0,404.0 660.7,409.6 661.4,400.8 662.1,409.2 662.8,401.5 663.5,410.4 664.2,404.9 664.9,412.9 665.6,405.4 666.3,414.3 667.0,405.1 667.7,411.6 668.4,403.9 669.1,412.1 669.8,404.1 670.5,411.4 671.2,406.9 671.9,413.9 672.6,401.4 673.3,407.0 674.0,394.1 674.7,397.6 675.4,384.7 676.1,389.3 676.8,375.9 677.5,383.4 678.2,371.4 678.9,382.7 679.6,372.2 680.3,383.3 681.0,372.5 681.7,379.2 682.4,375.3 683.1,380.3 683.8,365.8 684.5,373.8 685.2,361.4 685.9,368.0 686.6,352.8 687.3,358.1 688.0,349.1 688.7,361.0 689.4,349.9 690.1,363.4 690.8,352.2 691.5,355.7 692.2,347.9 692.9,354.6 693.6,346.5 694.3,354.7 695.0,341.2 695.7,351.0 696.4,338.0 697.1,347.8 697.8,333.0 698.5,342.5 699.2,332.6 699.9,339.0 700.6,324.0 701.3,334.4 702.0,325.3 702.7,333.2 703.4,325.3 704.1,333.6 704.8,325.6 705.5,333.6 706.2,319.8 706.9,325.7 707.6,314.5 708.3,321.1 709.0,310.3 709.7,320.4 710.4,313.2 711.1,322.0 711.8,317.2 712.5,325.0 713.2,315.0 713.9,323.1 714.6,316.6 715.3,326.4 716.0,322.2 716.7,330.4 717.4,319.4 718.1,330.9 718.8,319.4 719.5,330.2 720.2,316.8 720.9,331.9 721.6,324.6 722.3,331.4 723.0,325.0 723.7,335.5 724.4,324.0 725.1,331.3 725.8,324.4 726.5,333.6 727.2,320.7 727.9,329.6 728.6,321.4 729.3,328.6 730.0,321.2 730.7,326.4 731.4,320.5 732.1,326.5 732.8,315.4 733.5,324.1 734.2,315.6 734.9,323.3 735.6,310.7 736.3,323.2 737.0,312.7 737.7,318.6 738.4,307.1 739.1,313.7 739.8,300.0 740.5,309.1 741.2,294.2 741.9,296.2 742.6,282.9 743.3,284.2 744.0,279.6 744.7,287.8 745.4,287.9 746.1,295.1 746.8,289.6 747.5,297.8 748.2,293.4 748.9,301.4 749.6,293.1 750.3,299.5 751.0,293.0 751.7,302.8 752.4,290.5 753.1,301.1 753.8,290.5 754.5,304.1 755.2,292.3 755.9,299.9 756.6,294.1 757.3,298.3 758.0,293.8 758.7,299.1 759.4,296.4 760.1,307.8 760.8,299.2 761.5,311.9 762.2,305.5 762.9,314.9 763.6,309.4 764.3,322.8 765.0,315.5 765.7,326.2 766.4,315.0 767.1,327.9 767.8,319.8 768.5,326.8 769.2,320.5 769.9,327.8 770.6,320.0 771.3,327.8 772.0,320.3 772.7,324.0 773.4,315.6 774.1,319.2 774.8,314.7 775.5,329.3 776.2,328.0 776.9,342.0 777.6,333.6 778.3,345.5 779.0,337.7 779.7,350.7 780.4,343.1 781.1,356.6 781.8,349.7 782.5,361.3 783.2,355.3 783.9,364.2 784.6,358.7 785.3,371.6 786.0,366.6 786.7,372.1 787.4,358.1 788.1,364.0 788.8,350.5 789.5,354.1 790.2,342.9 790.9,348.8 791.6,337.7 792.3,343.9 793.0,333.2 793.7,344.0 794.4,336.9 795.1,346.8 795.8,342.3 796.5,349.3 797.2,344.0 797.9,352.8 798.6,346.2 799.3,363.2 800.0,354.9 800.7,358.1 801.4,351.1 802.1,356.3 802.8,340.2 803.5,350.1 804.2,340.5 804.9,345.7 805.6,338.3 806.3,342.6 807.0,331.3 807.7,338.3 808.4,329.0 809.1,329.8 809.8,319.8 810.5,325.7 811.2,310.7 811.9,320.4 812.6,308.0 813.3,307.8 814.0,298.5 814.7,303.2 815.4,292.8 816.1,296.6 816.8,286.2 817.5,289.2 818.2,280.1 818.9,290.4 819.6,283.2 820.3,289.5 821.0,282.8 821.7,291.0 822.4,284.1 823.1,290.9 823.8,284.3 824.5,295.0 825.2,285.1 825.9,297.5 826.6,286.9 827.3,298.7 828.0,287.1 828.7,294.0 829.4,283.7 830.1,290.8 830.8,279.5 831.5,287.2 832.2,277.5 832.9,287.7 833.6,284.7 834.3,297.5 835.0,291.9 835.7,306.0 836.4,295.3 837.1,309.8 837.8,304.0 838.5,316.6 839.2,312.4 839.9,322.8 840.6,320.0 841.3,327.6 842.0,322.7 842.7,333.6 843.4,328.1 844.1,336.8 844.8,331.2 845.5,343.1 846.2,334.1 846.9,349.5 847.6,341.2 848.3,348.9 849.0,343.3 849.7,349.7 850.4,348.8 851.1,356.4 851.8,355.2 852.5,362.2 853.2,357.9 853.9,366.6 854.6,357.2 855.3,368.3 856.0,359.9 856.7,369.9 857.4,362.8 858.1,369.1 858.8,363.6 859.5,372.0 860.2,359.3 860.9,372.6 861.6,364.4 862.3,374.0 863.0,365.7 863.7,372.8 864.4,368.9 865.1,376.2 865.8,367.7 866.5,377.9 867.2,364.0 867.9,376.6 868.6,361.4 869.3,375.2 870.0,361.8 870.7,372.8 871.4,366.7 872.1,370.1 872.8,364.8 873.5,370.0 874.2,364.5 874.9,369.0 875.6,363.2 876.3,371.7 877.0,359.4 877.7,367.6 878.4,355.9 879.1,363.0 879.8,355.3 880.5,362.0 881.2,353.0 881.9,369.5 882.6,358.9 883.3,362.5 884.0,357.7 884.7,364.2 885.4,354.3 886.1,363.1 886.8,355.0 887.5,360.5 888.2,352.9 888.9,360.2 889.6,354.2 890.3,358.8 891.0,350.0 891.7,353.7 892.4,340.4 893.1,353.7 893.8,341.7 894.5,360.8 895.2,350.0 895.9,362.3 896.6,355.1 897.3,368.0 898.0,356.2 898.7,372.2 899.4,362.4 900.1,371.6 900.8,363.7 901.5,381.1 902.2,364.5 902.9,378.4 903.6,367.5 904.3,373.5 905.0,365.6 905.7,372.0 906.4,363.6 907.1,375.2 907.8,361.0 908.5,370.9 909.2,360.2 909.9,367.2 910.6,354.8 911.3,359.3 912.0,346.1 912.7,357.3 913.4,343.1 914.1,352.2 914.8,346.2 915.5,351.7 916.2,338.9 916.9,346.0 917.6,334.5 918.3,349.1 919.0,347.0 919.7,360.1 920.4,353.7 921.1,366.6 921.8,354.3 922.5,375.0 923.2,365.5 923.9,373.3 924.6,366.6 925.3,375.3 926.0,367.4 926.7,376.9 927.4,368.2 928.1,378.4 928.8,364.2 929.5,375.5 930.2,368.1 930.9,372.0 931.6,364.9 932.3,369.3 933.0,360.1 933.7,369.6 934.4,351.6 935.1,358.0 935.8,346.7 936.5,350.9 937.2,341.6 937.9,343.0 938.6,332.8 939.3,335.8 940.0,325.9 940.7,328.0 941.4,319.0 942.1,326.4 942.8,313.3 943.5,326.4 944.2,311.0 944.9,321.6 945.6,311.3 946.3,327.0 947.0,316.1 947.7,326.8 948.4,320.6 949.1,333.8 949.8,323.4 950.5,338.6 951.2,326.7 951.9,340.1 952.6,328.2 953.3,338.0 954.0,331.1 954.7,349.0 955.4,335.2 956.1,349.3 956.8,337.5 957.5,355.1 958.2,347.4 958.9,363.8 959.6,357.1 960.3,369.6 961.0,362.5 961.7,379.0 962.4,368.0 963.1,392.3 963.8,369.1 964.5,396.7 965.2,380.4 965.9,397.1 966.6,384.3 967.3,404.4 968.0,388.6 968.7,409.8 969.4,396.4 970.1,409.1 970.8,400.6 971.5,418.6 972.2,404.8 972.9,422.8 973.6,413.5 974.3,427.4 975.0,419.2 975.7,432.5 976.4,422.2 977.1,436.7 977.8,411.2 978.5,431.7 979.2,417.0 979.9,425.5 980.6,411.0 981.3,427.8 982.0,407.6 982.7,424.8 983.4,411.0 984.1,437.0 984.8,399.6 985.5,447.7 986.2,414.0 986.9,450.7 987.6,407.3 988.3,439.4 989.0,430.5 989.7,447.3 990.4,434.1 991.1,466.2 991.8,433.2 992.5,458.7 992.5,450.0 992.5,476.0 992.5,450.0 993.2,428.7 993.9,475.6 994.6,438.5 995.3,467.9 996.0,440.2 996.7,465.5 997.4,437.2 998.1,466.6 998.8,449.7 999.5,467.5 1000.2,451.5 1000.9,466.0 1001.6,452.6 1002.3,470.6 1003.0,454.0 1003.7,471.5 1004.0,455.0 1004.0,488.0 1004.0,455.0 1004.4,458.7 1005.1,469.8 1005.8,441.8 1006.5,481.9 1007.2,442.7 1007.9,477.0 1008.6,450.8 1009.3,470.9 1010.0,453.6 1010.7,469.8 1011.4,452.6 1012.1,467.7 1012.8,454.4 1013.5,469.0 1014.2,452.4 1014.9,470.8 1015.6,455.5 1016.3,484.0 1017.0,451.4 1017.5,470.0 1017.5,503.0 1017.5,470.0 1017.7,466.1 1018.4,449.6 1019.1,465.0 1019.8,447.4 1020.5,465.1 1021.2,449.9 1021.9,481.2 1022.6,435.7 1023.3,484.4 1024.0,452.5 1024.7,465.1 1025.4,454.0 1026.1,466.2 1026.8,456.3 1027.5,475.3 1027.5,475.0 1027.5,510.0 1027.5,475.0 1028.2,448.2 1028.9,472.9 1029.6,456.7 1030.3,466.6 1031.0,450.9 1031.7,486.1 1032.4,448.5 1033.1,488.1 1033.8,458.5 1034.5,472.5 1035.2,459.9 1035.9,473.9 1036.6,461.9 1037.3,478.8 1038.0,449.1 1038.7,482.1 1039.4,450.4 1040.1,482.2 1040.8,466.2 1041.5,489.5 1042.2,456.2 1042.9,488.8 1043.6,459.4 1044.3,494.1 1045.0,477.0 1045.7,499.1 1046.4,478.1 1047.1,498.2 1047.8,482.4 1048.5,507.5 1049.2,487.5 1049.9,502.7 1050.0,490.0 1050.0,521.0 1050.0,490.0 1050.6,486.6 1051.3,518.9 1052.0,492.5 1052.7,520.2 1053.4,501.7 1054.1,514.4 1054.8,501.1 1055.5,521.6 1056.2,489.5 1056.9,521.9 1057.6,495.2 1058.3,526.5 1059.0,513.1 1059.7,534.3 1060.0,505.0 1060.0,541.0 1060.0,505.0 1060.4,497.9 1061.1,534.1 1061.8,512.9 1062.5,540.8 1063.2,506.0 1063.9,541.1 1064.6,522.2 1065.3,543.6 1066.0,529.9 1066.7,549.4 1067.4,518.9 1068.1,552.9 1068.8,528.9 1069.5,568.5 1070.2,543.9 1070.9,558.4 1071.6,550.9 1072.3,561.7 1073.0,553.7 1073.7,568.2 1074.4,553.2 1075.1,572.3 1075.8,558.7 1076.5,582.6 1077.2,569.4 1077.9,581.2 1078.6,576.9 1079.3,588.1 1080.0,581.6 1080.7,594.8 1081.4,591.9 1082.1,601.2 1082.8,604.9 1083.5,615.1 1084.2,622.9 1084.9,640.9 1085.6,648.9 1086.3,655.2" stroke="#7E2F8E"/>
</g>
<text class="tk" transform="translate(156.50,832.00) scale(1.0,1.08)" text-anchor="middle">0</text>
<text class="tk" transform="translate(350.50,832.00) scale(1.0,1.08)" text-anchor="middle">5</text>
<text class="tk" transform="translate(544.50,832.00) scale(1.0,1.08)" text-anchor="middle">10</text>
<text class="tk" transform="translate(737.50,832.00) scale(1.0,1.08)" text-anchor="middle">15</text>
<text class="tk" transform="translate(931.50,832.00) scale(1.0,1.08)" text-anchor="middle">20</text>
<text class="tk" transform="translate(147.60,725.50) scale(1.0,1.08)" text-anchor="end">2690</text>
<text class="tk" transform="translate(147.60,625.50) scale(1.0,1.08)" text-anchor="end">2700</text>
<text class="tk" transform="translate(147.60,526.50) scale(1.0,1.08)" text-anchor="end">2710</text>
<text class="tk" transform="translate(147.60,427.50) scale(1.0,1.08)" text-anchor="end">2720</text>
<text class="tk" transform="translate(147.60,327.50) scale(1.0,1.08)" text-anchor="end">2730</text>
<text class="tk" transform="translate(147.60,228.50) scale(1.0,1.08)" text-anchor="end">2740</text>
<text class="tk" transform="translate(147.60,128.50) scale(1.0,1.08)" text-anchor="end">2750</text>
<text class="ttl" transform="translate(621.00,58.30) scale(1.0,1.04)" text-anchor="middle" xml:space="preserve" style="white-space:pre">13.10.2025  Paratunka PET; GSM-19FD dIdD;</text>
<text class="yl" transform="translate(88.40,433.30) rotate(-90) scale(1.0,1.03)" text-anchor="middle">F(D,I)-51000, nT</text>
<rect x="950.5" y="85.5" width="117" height="112" fill="#fff" stroke="#262626" stroke-width="1" shape-rendering="crispEdges"/>
<path d="M962.5 102.5H1025.5" stroke="#0072BD" stroke-width="2.1" fill="none"/>
<text class="lg" transform="translate(1031.00,110.10) scale(1.0,1.04)" text-anchor="start">Dp</text>
<path d="M962.5 128.5H1025.5" stroke="#D95319" stroke-width="2.1" fill="none"/>
<text class="lg" transform="translate(1031.00,136.10) scale(1.0,1.04)" text-anchor="start">Dm</text>
<path d="M962.5 154.5H1025.5" stroke="#EDB120" stroke-width="2.1" fill="none"/>
<text class="lg" transform="translate(1031.00,162.10) scale(1.0,1.04)" text-anchor="start">Ip</text>
<path d="M962.5 180.5H1025.5" stroke="#7E2F8E" stroke-width="2.1" fill="none"/>
<text class="lg" transform="translate(1031.00,188.10) scale(1.0,1.04)" text-anchor="start">Im</text>
</svg></body></html>
